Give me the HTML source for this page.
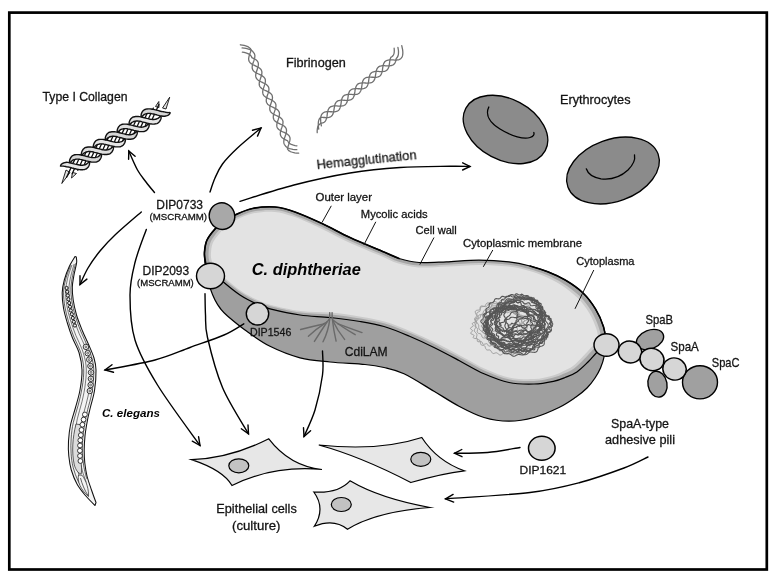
<!DOCTYPE html>
<html><head><meta charset="utf-8"><title>C. diphtheriae adhesion</title>
<style>html,body{margin:0;padding:0;background:#fff}body{width:776px;height:580px;overflow:hidden}svg{display:block}</style>
</head><body>
<svg width="776" height="580" viewBox="0 0 776 580" font-family="'Liberation Sans', sans-serif" fill="#141414">
<rect x="0" y="0" width="776" height="580" fill="#fff"/>
<rect x="9.3" y="12.6" width="757.5" height="556.9" fill="none" stroke="#000" stroke-width="2.7"/>
<defs><clipPath id="topclip"><path d="M215 229C217.8 225.8 220.7 223.3 224 221C227.3 218.7 230.2 217.1 235 215C239.8 212.9 245.8 209.8 252.5 208.5C259.2 207.2 267.9 206.4 275 207C282.1 207.6 287.1 209.2 295 212C302.9 214.8 313.3 219.5 322.5 223.8C331.7 228 339.8 232.8 350 237.5C360.2 242.2 375.8 248.5 384 252C392.2 255.5 393.2 256.8 399 258.5C404.8 260.2 411.1 262 419 262.5C426.9 263 436.5 262.2 446.5 261.8C456.5 261.3 468.6 260 479 260C489.4 260 500.5 260.8 509 261.8C517.5 262.8 523.6 264.3 530 266C536.4 267.7 541.7 269.4 547.6 271.7C553.5 274 559.3 276.5 565.2 280C571.1 283.5 577.7 287.9 582.8 292.8C587.9 297.7 592.1 303.5 595.6 309.2C599.1 314.9 601.9 321.7 603.5 326.8C605.1 331.9 605.8 336.5 605.5 340C605.2 343.5 603.5 345.8 602 348C600.5 350.2 598.5 350.7 596.2 353C593.9 355.3 591.2 358.9 588 362C584.8 365.1 580.7 369.3 576.9 371.9C573.1 374.5 568.9 375.9 565 377.5C561.1 379.1 558.6 380.2 553.4 381.3C548.2 382.4 541.4 383.8 534 384C526.6 384.2 517.3 384.2 509 382.5C500.7 380.8 492.3 377.4 484 373.8C475.7 370.1 467.3 364.9 459 360.5C450.7 356.1 442.3 351.6 434 347.5C425.7 343.4 417.3 339.5 409 336C400.7 332.5 392.2 328.9 384 326.5C375.8 324.1 369 323 360 321.5C351 320 340 318.6 330 317.5C320 316.4 310 316.5 300 315C290 313.5 277.3 310.6 270 308.8C262.7 306.9 261 305.9 256 303.6C251 301.3 245.3 298.5 240 295C234.7 291.5 228.7 286.5 224 282.5C219.3 278.5 215.1 274.3 212 271C208.9 267.7 206.8 265.7 205.5 262.5C204.2 259.3 204.2 255.8 204.5 252C204.8 248.2 205.2 243.8 207 240C208.8 236.2 212.2 232.2 215 229Z"/></clipPath></defs>
<g fill="#e2e2e2" stroke="#111" stroke-width="0.9" stroke-linejoin="round"><path d="M66 170L61.800 183.500L70 172.500Z"/><path d="M72.500 172.500L71.500 178L76.500 173.500Z"/><path d="M162.500 108L169.700 97.200L166 109Z"/><path d="M155.500 106.500L158.800 101.500L159 107.500Z"/></g>
<g transform="translate(73.6 166) rotate(-32.6)" stroke-linejoin="round" stroke-linecap="round">
<path d="M-12 5.800L6 -5.800M-5.4 5.800L12.6 -5.800M1.2 5.800L19.2 -5.800M7.8 5.800L25.8 -5.800M14.4 5.800L32.4 -5.800M21 5.800L39 -5.800M27.6 5.800L45.6 -5.800M34.2 5.800L52.2 -5.800M40.8 5.800L58.8 -5.800M47.4 5.800L65.4 -5.800M54 5.800L72 -5.800M60.6 5.800L78.6 -5.800M67.2 5.800L85.2 -5.800M73.8 5.800L91.8 -5.800M80.4 5.800L98.4 -5.800M87 5.800L105 -5.800" fill="none" stroke="#111" stroke-width="1.3"/>
<path d="M-11.1 -7L-10.3 -6.5L-9.7 -6.1L-9.1 -5.7L-8.6 -5.4L-8.1 -4.9L-7.5 -4.4L-7 -3.9L-6.5 -3.3L-5.9 -2.7L-5.2 -2.1L-4.5 -1.5L-3.8 -0.8L-3.1 -0L-2.4 0.8L-1.6 1.6L-0.9 2.4L-0.1 3.2L0.6 4L1.4 4.8L2.2 5.5L3 6.2L3.9 6.9L4.7 7.5L5.6 8L6.5 8.5L7.5 8.9L8.4 9.1L9.4 9.3L10.4 9.1L11.4 8.9L12.3 8.5L13.1 8L13.9 7.4L14.6 6.7L15.2 5.9L15.6 4.9L15.6 4.9L14.5 4.9L13.6 5.1L12.8 5.2L12.1 5.3L11.4 5.3L10.9 5.2L10.3 5.1L9.9 4.9L9.4 4.8L8.9 4.6L8.4 4.4L7.8 4.1L7.2 3.7L6.6 3.3L5.9 2.8L5.3 2.2L4.6 1.5L3.9 0.8L3.2 0.1L2.4 -0.7L1.7 -1.5L0.9 -2.3L0.2 -3.1L-0.6 -3.9L-1.4 -4.7L-2.1 -5.4L-3 -6.2L-3.8 -6.8L-4.8 -7.3L-5.7 -7.6L-6.7 -7.9L-7.6 -8.1L-8.6 -8.1L-9.5 -8L-10.3 -7.7L-11.1 -7Z" fill="#e6e6e6" stroke="#111" stroke-width="1.4"/>
<path d="M-1.4 -4.9L-0.2 -4.9L0.8 -5.1L1.7 -5.3L2.5 -5.3L3.2 -5.2L3.8 -5.1L4.4 -4.8L4.9 -4.7L5.5 -4.5L6.2 -4.2L6.9 -3.8L7.6 -3.3L8.4 -2.7L9.1 -2L10 -1.2L10.8 -0.3L11.6 0.6L12.5 1.5L13.4 2.5L14.3 3.4L15.2 4.3L16.1 5.2L17 6.1L18 6.9L19 7.6L20 8.2L21.1 8.7L22.2 9.1L23.4 9.3L24.6 9.1L25.7 8.8L26.7 8.3L27.7 7.7L28.5 7L29.3 6.1L29.7 4.9L29.7 4.9L28.5 4.9L27.5 5.1L26.6 5.3L25.8 5.3L25.1 5.2L24.5 5.1L23.9 4.8L23.4 4.7L22.8 4.5L22.1 4.2L21.4 3.8L20.7 3.3L19.9 2.7L19.2 2L18.3 1.2L17.5 0.3L16.7 -0.6L15.8 -1.5L14.9 -2.5L14 -3.4L13.1 -4.3L12.2 -5.2L11.3 -6.1L10.3 -6.9L9.3 -7.6L8.3 -8.2L7.2 -8.7L6.1 -9.1L4.9 -9.3L3.7 -9.1L2.6 -8.8L1.6 -8.3L0.6 -7.7L-0.2 -7L-1 -6.1L-1.4 -4.9Z" fill="#d6d6d6" stroke="#111" stroke-width="1.4"/>
<path d="M12.7 -4.9L14 -4.9L15 -5.1L15.9 -5.3L16.7 -5.3L17.3 -5.2L18 -5.1L18.5 -4.8L19.1 -4.7L19.7 -4.5L20.3 -4.2L21 -3.8L21.7 -3.3L22.5 -2.7L23.3 -2L24.1 -1.2L24.9 -0.3L25.8 0.6L26.6 1.5L27.5 2.5L28.4 3.4L29.3 4.3L30.2 5.2L31.2 6.1L32.1 6.9L33.1 7.6L34.2 8.2L35.3 8.7L36.4 9.1L37.6 9.3L38.7 9.1L39.9 8.8L40.9 8.3L41.8 7.7L42.7 7L43.4 6.1L43.9 4.9L43.9 4.9L42.6 4.9L41.6 5.1L40.7 5.3L39.9 5.3L39.3 5.2L38.6 5.1L38.1 4.8L37.5 4.7L36.9 4.5L36.3 4.2L35.6 3.8L34.9 3.3L34.1 2.7L33.3 2L32.5 1.2L31.7 0.3L30.8 -0.6L30 -1.5L29.1 -2.5L28.2 -3.4L27.3 -4.3L26.4 -5.2L25.4 -6.1L24.5 -6.9L23.5 -7.6L22.4 -8.2L21.3 -8.7L20.2 -9.1L19 -9.3L17.9 -9.1L16.7 -8.8L15.7 -8.3L14.8 -7.7L13.9 -7L13.2 -6.1L12.7 -4.9Z" fill="#dfdfdf" stroke="#111" stroke-width="1.4"/>
<path d="M26.9 -4.9L28.1 -4.9L29.1 -5.1L30 -5.3L30.8 -5.3L31.5 -5.2L32.1 -5.1L32.7 -4.8L33.2 -4.7L33.8 -4.5L34.5 -4.2L35.2 -3.8L35.9 -3.3L36.7 -2.7L37.4 -2L38.3 -1.2L39.1 -0.3L39.9 0.6L40.8 1.5L41.7 2.5L42.6 3.4L43.5 4.3L44.4 5.2L45.3 6.1L46.3 6.9L47.3 7.6L48.3 8.2L49.4 8.7L50.5 9.1L51.7 9.3L52.9 9.1L54 8.8L55 8.3L56 7.7L56.8 7L57.6 6.1L58 4.9L58 4.9L56.8 4.9L55.8 5.1L54.9 5.3L54.1 5.3L53.4 5.2L52.8 5.1L52.2 4.8L51.7 4.7L51.1 4.5L50.4 4.2L49.7 3.8L49 3.3L48.2 2.7L47.5 2L46.6 1.2L45.8 0.3L45 -0.6L44.1 -1.5L43.2 -2.5L42.3 -3.4L41.4 -4.3L40.5 -5.2L39.6 -6.1L38.6 -6.9L37.6 -7.6L36.6 -8.2L35.5 -8.7L34.4 -9.1L33.2 -9.3L32 -9.1L30.9 -8.8L29.9 -8.3L28.9 -7.7L28.1 -7L27.3 -6.1L26.9 -4.9Z" fill="#e6e6e6" stroke="#111" stroke-width="1.4"/>
<path d="M41 -4.9L42.3 -4.9L43.3 -5.1L44.2 -5.3L45 -5.3L45.6 -5.2L46.3 -5.1L46.8 -4.8L47.4 -4.7L48 -4.5L48.6 -4.2L49.3 -3.8L50 -3.3L50.8 -2.7L51.6 -2L52.4 -1.2L53.2 -0.3L54.1 0.6L54.9 1.5L55.8 2.5L56.7 3.4L57.6 4.3L58.5 5.2L59.5 6.1L60.4 6.9L61.4 7.6L62.5 8.2L63.6 8.7L64.7 9.1L65.9 9.3L67 9.1L68.2 8.8L69.2 8.3L70.1 7.7L71 7L71.7 6.1L72.2 4.9L72.2 4.9L70.9 4.9L69.9 5.1L69 5.3L68.2 5.3L67.6 5.2L66.9 5.1L66.4 4.8L65.8 4.7L65.2 4.5L64.6 4.2L63.9 3.8L63.2 3.3L62.4 2.7L61.6 2L60.8 1.2L60 0.3L59.1 -0.6L58.3 -1.5L57.4 -2.5L56.5 -3.4L55.6 -4.3L54.7 -5.2L53.7 -6.1L52.8 -6.9L51.8 -7.6L50.7 -8.2L49.6 -8.7L48.5 -9.1L47.3 -9.3L46.2 -9.1L45 -8.8L44 -8.3L43.1 -7.7L42.2 -7L41.5 -6.1L41 -4.9Z" fill="#d6d6d6" stroke="#111" stroke-width="1.4"/>
<path d="M55.2 -4.9L56.4 -4.9L57.4 -5.1L58.3 -5.3L59.1 -5.3L59.8 -5.2L60.4 -5.1L61 -4.8L61.5 -4.7L62.1 -4.5L62.8 -4.2L63.5 -3.8L64.2 -3.3L65 -2.7L65.7 -2L66.6 -1.2L67.4 -0.3L68.2 0.6L69.1 1.5L70 2.5L70.9 3.4L71.8 4.3L72.7 5.2L73.6 6.1L74.6 6.9L75.6 7.6L76.6 8.2L77.7 8.7L78.8 9.1L80 9.3L81.2 9.1L82.3 8.8L83.3 8.3L84.3 7.7L85.1 7L85.9 6.1L86.3 4.9L86.3 4.9L85.1 4.9L84.1 5.1L83.2 5.3L82.4 5.3L81.7 5.2L81.1 5.1L80.5 4.8L80 4.7L79.4 4.5L78.7 4.2L78 3.8L77.3 3.3L76.5 2.7L75.8 2L74.9 1.2L74.1 0.3L73.3 -0.6L72.4 -1.5L71.5 -2.5L70.6 -3.4L69.7 -4.3L68.8 -5.2L67.9 -6.1L66.9 -6.9L65.9 -7.6L64.9 -8.2L63.8 -8.7L62.7 -9.1L61.5 -9.3L60.3 -9.1L59.2 -8.8L58.2 -8.3L57.2 -7.7L56.4 -7L55.6 -6.1L55.2 -4.9Z" fill="#dfdfdf" stroke="#111" stroke-width="1.4"/>
<path d="M69.3 -4.9L70.6 -4.9L71.6 -5.1L72.5 -5.3L73.3 -5.3L73.9 -5.2L74.6 -5.1L75.1 -4.8L75.7 -4.7L76.3 -4.5L76.9 -4.2L77.6 -3.8L78.3 -3.3L79.1 -2.7L79.9 -2L80.7 -1.2L81.5 -0.3L82.4 0.6L83.2 1.5L84.1 2.5L85 3.4L85.9 4.3L86.8 5.2L87.8 6.1L88.7 6.9L89.7 7.6L90.8 8.2L91.9 8.7L93 9.1L94.2 9.3L95.3 9.1L96.5 8.8L97.5 8.3L98.4 7.7L99.3 7L100 6.1L100.5 4.9L100.5 4.9L99.2 4.9L98.2 5.1L97.3 5.3L96.5 5.3L95.9 5.2L95.2 5.1L94.7 4.8L94.1 4.7L93.5 4.5L92.9 4.2L92.2 3.8L91.5 3.3L90.7 2.7L89.9 2L89.1 1.2L88.3 0.3L87.4 -0.6L86.6 -1.5L85.7 -2.5L84.8 -3.4L83.9 -4.3L83 -5.2L82 -6.1L81.1 -6.9L80.1 -7.6L79 -8.2L77.9 -8.7L76.8 -9.1L75.6 -9.3L74.5 -9.1L73.3 -8.8L72.3 -8.3L71.4 -7.7L70.5 -7L69.8 -6.1L69.3 -4.9Z" fill="#e6e6e6" stroke="#111" stroke-width="1.4"/>
<path d="M83.5 -4.9L84.6 -4.9L85.4 -5.1L86.2 -5.2L87 -5.3L87.6 -5.3L88.2 -5.2L88.7 -5.1L89.2 -4.9L89.6 -4.8L90.1 -4.6L90.7 -4.4L91.2 -4.1L91.8 -3.7L92.5 -3.3L93.1 -2.8L93.8 -2.2L94.5 -1.5L95.2 -0.8L95.9 -0.1L96.6 0.7L97.4 1.5L98.1 2.3L98.9 3.1L99.6 3.9L100.4 4.7L101.2 5.4L102 6.2L102.9 6.8L103.8 7.3L104.8 7.6L105.7 7.9L106.7 8.1L107.6 8.1L108.5 8L109.4 7.7L110.1 7L110.1 7L109.4 6.5L108.7 6.1L108.2 5.7L107.6 5.4L107.1 4.9L106.6 4.4L106.1 3.9L105.5 3.3L104.9 2.7L104.2 2.1L103.6 1.5L102.8 0.8L102.1 0L101.4 -0.8L100.7 -1.6L99.9 -2.4L99.2 -3.2L98.4 -4L97.6 -4.8L96.8 -5.5L96 -6.2L95.2 -6.9L94.3 -7.5L93.5 -8L92.5 -8.5L91.6 -8.9L90.6 -9.1L89.6 -9.3L88.6 -9.1L87.6 -8.9L86.7 -8.5L85.9 -8L85.1 -7.4L84.5 -6.7L83.8 -5.9L83.5 -4.9Z" fill="#d6d6d6" stroke="#111" stroke-width="1.4"/>
</g>
<g transform="translate(247.5 47.5) rotate(67)" fill="none" stroke="#707070" stroke-width="1.3" stroke-linecap="round" stroke-linejoin="round">
<path d="M2.2 6.5L3.2 5L4.3 3.6L5.3 2.5L6.3 1.6L7.3 0.9L8.4 0.3L9.4 0L11 -0.1L11.8 -0.8L12.6 -1.5L13.4 -2.1L14.2 -2.7L15 -3.2L15.8 -3.5L16.6 -3.8L17.4 -3.9L18.2 -3.9L19 -3.7L19.8 -3.4L20.6 -3L21.4 -2.5L22.2 -1.9L23 -1.2L23.8 -0.5L24.7 0.2L25.5 0.9L26.3 1.6L27.1 2.2L27.9 2.8L28.7 3.3L29.5 3.6L30.3 3.8L31.1 3.9L31.9 3.8L32.7 3.7L33.5 3.3L34.3 2.9L35.1 2.4L35.9 1.8L36.7 1.1L37.5 0.4L38.3 -0.3L39.1 -1.1L39.9 -1.7L40.7 -2.4L41.5 -2.9L42.3 -3.3L43.1 -3.6L43.9 -3.8L44.7 -3.9L45.5 -3.8L46.3 -3.6L47.1 -3.3L47.9 -2.8L48.7 -2.3L49.5 -1.7L50.3 -1L51.1 -0.2L52 0.5L52.8 1.2L53.6 1.9L54.4 2.5L55.2 3L56 3.4L56.8 3.7L57.6 3.9L58.4 3.9L59.2 3.8L60 3.6L60.8 3.2L61.6 2.7L62.4 2.2L63.2 1.5L64 0.8L64.8 0.1L65.6 -0.6L66.4 -1.3L67.2 -2L68 -2.6L68.8 -3.1L69.6 -3.5L70.4 -3.7L71.2 -3.9L72 -3.9L72.8 -3.8L73.6 -3.5L74.4 -3.1L75.2 -2.6L76 -2.1L76.8 -1.4L77.6 -0.7L78.5 0L79.3 0.8L80.1 1.4L80.9 2.1L81.7 2.7L82.5 3.2L83.3 3.5L84.1 3.8L84.9 3.9L85.7 3.9L86.5 3.7L87.3 3.4L88.1 3L88.9 2.5L89.7 1.9L90.5 1.3L91.3 0.6L92.1 -0.2L92.9 -0.9L93.7 -1.6L94.5 -2.2L95.3 -2.8L96.1 -3.2L96.9 -3.6L97.7 -3.8L98.5 -3.9L99.3 -3.9L100.1 -3.7L100.9 -3.4L101.7 -2.9L102.5 -2.4L103.3 -1.8L104.1 -1.1L104.9 -0.4L105.8 0.3L106.6 1L107.4 1.7L108.2 2.3L109 2.9L110.5 2.5L111.5 2L112.5 1.2L113.4 0.3L114.4 -0.9L115.4 -2.3L116.4 -3.9L117.3 -5.8"/>
<path d="M-1.8 5.1L-0.8 3.3L0.3 1.7L1.3 0.3L2.3 -0.9L3.3 -1.9L4.4 -2.7L5.4 -3.2L7 -3.6L7.8 -3.8L8.6 -3.9L9.4 -3.8L10.2 -3.7L11 -3.3L11.8 -2.9L12.6 -2.4L13.4 -1.7L14.2 -1.1L15 -0.4L15.8 0.4L16.6 1.1L17.4 1.8L18.2 2.4L19 2.9L19.8 3.3L20.7 3.7L21.5 3.8L22.3 3.9L23.1 3.8L23.9 3.6L24.7 3.3L25.5 2.8L26.3 2.3L27.1 1.6L27.9 0.9L28.7 0.2L29.5 -0.5L30.3 -1.2L31.1 -1.9L31.9 -2.5L32.7 -3L33.5 -3.4L34.3 -3.7L35.1 -3.9L35.9 -3.9L36.7 -3.8L37.5 -3.5L38.3 -3.2L39.1 -2.7L39.9 -2.1L40.7 -1.5L41.5 -0.8L42.3 -0.1L43.1 0.6L43.9 1.3L44.7 2L45.5 2.6L46.3 3.1L47.1 3.5L48 3.7L48.8 3.9L49.6 3.9L50.4 3.8L51.2 3.5L52 3.1L52.8 2.6L53.6 2L54.4 1.4L55.2 0.7L56 -0.1L56.8 -0.8L57.6 -1.5L58.4 -2.1L59.2 -2.7L60 -3.2L60.8 -3.5L61.6 -3.8L62.4 -3.9L63.2 -3.9L64 -3.7L64.8 -3.4L65.6 -3L66.4 -2.5L67.2 -1.9L68 -1.2L68.8 -0.5L69.6 0.2L70.4 0.9L71.2 1.6L72 2.2L72.8 2.8L73.6 3.2L74.5 3.6L75.3 3.8L76.1 3.9L76.9 3.9L77.7 3.7L78.5 3.4L79.3 2.9L80.1 2.4L80.9 1.8L81.7 1.1L82.5 0.4L83.3 -0.3L84.1 -1L84.9 -1.7L85.7 -2.3L86.5 -2.9L87.3 -3.3L88.1 -3.6L88.9 -3.8L89.7 -3.9L90.5 -3.8L91.3 -3.6L92.1 -3.3L92.9 -2.8L93.7 -2.3L94.5 -1.7L95.3 -1L96.1 -0.3L96.9 0.5L97.7 1.2L98.5 1.8L99.3 2.5L100.1 3L100.9 3.4L101.8 3.7L102.6 3.9L103.4 3.9L104.2 3.8L105 3.6L106.5 3.2L107.5 2.6L108.5 1.8L109.4 0.8L110.4 -0.5L111.4 -1.9L112.4 -3.6L113.3 -5.5"/>
<path d="M-5.3 5.5L-4.3 3.8L-3.2 2.3L-2.2 1L-1.2 -0.1L-0.2 -1L0.9 -1.7L1.9 -2.2L3.5 -2.5L4.3 -1.8L5.1 -1.2L5.9 -0.5L6.7 0.3L7.5 1L8.3 1.7L9.1 2.3L9.9 2.8L10.7 3.3L11.5 3.6L12.3 3.8L13.1 3.9L13.9 3.8L14.7 3.6L15.5 3.3L16.3 2.9L17.2 2.3L18 1.7L18.8 1L19.6 0.3L20.4 -0.4L21.2 -1.1L22 -1.8L22.8 -2.4L23.6 -2.9L24.4 -3.4L25.2 -3.7L26 -3.9L26.8 -3.9L27.6 -3.8L28.4 -3.6L29.2 -3.2L30 -2.8L30.8 -2.2L31.6 -1.6L32.4 -0.9L33.2 -0.2L34 0.5L34.8 1.2L35.6 1.9L36.4 2.5L37.2 3L38 3.4L38.8 3.7L39.6 3.9L40.4 3.9L41.2 3.8L42 3.5L42.8 3.2L43.6 2.7L44.5 2.1L45.3 1.5L46.1 0.8L46.9 0.1L47.7 -0.7L48.5 -1.4L49.3 -2L50.1 -2.6L50.9 -3.1L51.7 -3.5L52.5 -3.8L53.3 -3.9L54.1 -3.9L54.9 -3.7L55.7 -3.5L56.5 -3.1L57.3 -2.6L58.1 -2L58.9 -1.3L59.7 -0.6L60.5 0.1L61.3 0.8L62.1 1.5L62.9 2.1L63.7 2.7L64.5 3.2L65.3 3.5L66.1 3.8L66.9 3.9L67.7 3.9L68.5 3.7L69.3 3.4L70.1 3L71 2.5L71.8 1.9L72.6 1.2L73.4 0.5L74.2 -0.2L75 -0.9L75.8 -1.6L76.6 -2.3L77.4 -2.8L78.2 -3.3L79 -3.6L79.8 -3.8L80.6 -3.9L81.4 -3.8L82.2 -3.7L83 -3.3L83.8 -2.9L84.6 -2.4L85.4 -1.8L86.2 -1.1L87 -0.4L87.8 0.4L88.6 1.1L89.4 1.7L90.2 2.4L91 2.9L91.8 3.3L92.6 3.7L93.4 3.8L94.2 3.9L95 3.8L95.8 3.6L96.6 3.3L97.4 2.8L98.3 2.3L99.1 1.6L99.9 1L100.7 0.2L101.5 -0.5L103 -0.6L104 -0.9L105 -1.4L105.9 -2.1L106.9 -3L107.9 -4.2L108.9 -5.5L109.8 -7.1"/>
</g>
<g transform="translate(316.5 123.5) rotate(-39.7)" fill="none" stroke="#707070" stroke-width="1.3" stroke-linecap="round" stroke-linejoin="round">
<path d="M2.2 5L3.2 3.2L4.3 1.5L5.3 0.1L6.3 -1.1L7.3 -2.1L8.4 -2.9L9.4 -3.5L11 -3.9L11.8 -3.9L12.6 -3.8L13.4 -3.6L14.2 -3.2L15 -2.8L15.8 -2.2L16.6 -1.6L17.4 -0.9L18.3 -0.1L19.1 0.6L19.9 1.3L20.7 2L21.5 2.6L22.3 3.1L23.1 3.5L23.9 3.7L24.7 3.9L25.5 3.9L26.3 3.8L27.1 3.5L27.9 3.1L28.7 2.6L29.5 2L30.3 1.4L31.2 0.7L32 -0L32.8 -0.8L33.6 -1.5L34.4 -2.1L35.2 -2.7L36 -3.2L36.8 -3.5L37.6 -3.8L38.4 -3.9L39.2 -3.9L40 -3.7L40.8 -3.4L41.6 -3L42.4 -2.5L43.2 -1.9L44.1 -1.2L44.9 -0.5L45.7 0.2L46.5 1L47.3 1.6L48.1 2.3L48.9 2.8L49.7 3.3L50.5 3.6L51.3 3.8L52.1 3.9L52.9 3.8L53.7 3.6L54.5 3.3L55.3 2.9L56.1 2.3L57 1.7L57.8 1L58.6 0.3L59.4 -0.4L60.2 -1.1L61 -1.8L61.8 -2.4L62.6 -3L63.4 -3.4L64.2 -3.7L65 -3.9L65.8 -3.9L66.6 -3.8L67.4 -3.6L68.2 -3.2L69 -2.7L69.8 -2.2L70.7 -1.5L71.5 -0.9L72.3 -0.1L73.1 0.6L73.9 1.3L74.7 2L75.5 2.6L76.3 3.1L77.1 3.5L77.9 3.7L78.7 3.9L79.5 3.9L80.3 3.8L81.1 3.5L81.9 3.1L82.7 2.6L83.6 2L84.4 1.4L85.2 0.7L86 -0.1L86.8 -0.8L87.6 -1.5L88.4 -2.1L89.2 -2.7L90 -3.2L90.8 -3.5L91.6 -3.8L92.4 -3.9L93.2 -3.9L94 -3.7L94.8 -3.4L95.6 -3L96.5 -2.5L97.3 -1.9L98.1 -1.2L98.9 -0.5L99.7 0.2L100.5 1L101.3 1.7L102.1 2.3L102.9 2.8L103.7 3.3L104.5 3.6L105.3 3.8L106.1 3.9L106.9 3.8L108.5 3.4L109.5 2.8L110.4 2L111.4 1L112.4 -0.3L113.4 -1.8L114.3 -3.5L115.3 -5.4"/>
<path d="M-1.8 5.7L-0.8 4L0.3 2.5L1.3 1.2L2.3 0.2L3.3 -0.7L4.4 -1.4L5.4 -1.8L7 -2.1L7.8 -1.4L8.6 -0.7L9.4 0L10.2 0.7L11 1.4L11.8 2.1L12.6 2.7L13.4 3.2L14.3 3.5L15.1 3.8L15.9 3.9L16.7 3.9L17.5 3.7L18.3 3.4L19.1 3L19.9 2.5L20.7 1.9L21.5 1.2L22.3 0.5L23.1 -0.2L23.9 -0.9L24.7 -1.6L25.5 -2.2L26.3 -2.8L27.2 -3.3L28 -3.6L28.8 -3.8L29.6 -3.9L30.4 -3.8L31.2 -3.7L32 -3.3L32.8 -2.9L33.6 -2.4L34.4 -1.7L35.2 -1.1L36 -0.3L36.8 0.4L37.6 1.1L38.4 1.8L39.2 2.4L40.1 2.9L40.9 3.4L41.7 3.7L42.5 3.9L43.3 3.9L44.1 3.8L44.9 3.6L45.7 3.2L46.5 2.8L47.3 2.2L48.1 1.6L48.9 0.9L49.7 0.2L50.5 -0.6L51.3 -1.3L52.1 -1.9L53 -2.5L53.8 -3L54.6 -3.4L55.4 -3.7L56.2 -3.9L57 -3.9L57.8 -3.8L58.6 -3.5L59.4 -3.1L60.2 -2.6L61 -2.1L61.8 -1.4L62.6 -0.7L63.4 0L64.2 0.7L65 1.5L65.8 2.1L66.7 2.7L67.5 3.2L68.3 3.5L69.1 3.8L69.9 3.9L70.7 3.9L71.5 3.7L72.3 3.4L73.1 3L73.9 2.5L74.7 1.9L75.5 1.2L76.3 0.5L77.1 -0.2L77.9 -0.9L78.7 -1.6L79.6 -2.3L80.4 -2.8L81.2 -3.3L82 -3.6L82.8 -3.8L83.6 -3.9L84.4 -3.8L85.2 -3.7L86 -3.3L86.8 -2.9L87.6 -2.4L88.4 -1.7L89.2 -1.1L90 -0.3L90.8 0.4L91.6 1.1L92.5 1.8L93.3 2.4L94.1 2.9L94.9 3.4L95.7 3.7L96.5 3.9L97.3 3.9L98.1 3.8L98.9 3.6L99.7 3.2L100.5 2.8L101.3 2.2L102.1 1.6L102.9 0.9L104.5 0.7L105.5 0.3L106.4 -0.3L107.4 -1.1L108.4 -2.2L109.4 -3.4L110.3 -4.9L111.3 -6.6"/>
<path d="M-5.3 7.5L-4.3 6.2L-3.2 5.1L-2.2 4.2L-1.2 3.4L-0.2 2.9L0.9 2.6L1.9 2.5L3.5 2.6L4.3 3.1L5.1 3.5L5.9 3.7L6.7 3.9L7.5 3.9L8.3 3.8L9.1 3.5L9.9 3.1L10.8 2.6L11.6 2L12.4 1.4L13.2 0.7L14 -0.1L14.8 -0.8L15.6 -1.5L16.4 -2.1L17.2 -2.7L18 -3.2L18.8 -3.5L19.6 -3.8L20.4 -3.9L21.2 -3.9L22 -3.7L22.8 -3.4L23.7 -3L24.5 -2.5L25.3 -1.9L26.1 -1.2L26.9 -0.5L27.7 0.3L28.5 1L29.3 1.7L30.1 2.3L30.9 2.8L31.7 3.3L32.5 3.6L33.3 3.8L34.1 3.9L34.9 3.8L35.7 3.6L36.6 3.3L37.4 2.9L38.2 2.3L39 1.7L39.8 1L40.6 0.3L41.4 -0.4L42.2 -1.2L43 -1.8L43.8 -2.4L44.6 -3L45.4 -3.4L46.2 -3.7L47 -3.9L47.8 -3.9L48.6 -3.8L49.5 -3.6L50.3 -3.2L51.1 -2.7L51.9 -2.2L52.7 -1.5L53.5 -0.8L54.3 -0.1L55.1 0.6L55.9 1.3L56.7 2L57.5 2.6L58.3 3.1L59.1 3.5L59.9 3.7L60.7 3.9L61.5 3.9L62.3 3.8L63.2 3.5L64 3.1L64.8 2.6L65.6 2L66.4 1.4L67.2 0.7L68 -0.1L68.8 -0.8L69.6 -1.5L70.4 -2.1L71.2 -2.7L72 -3.2L72.8 -3.6L73.6 -3.8L74.4 -3.9L75.2 -3.9L76.1 -3.7L76.9 -3.4L77.7 -3L78.5 -2.5L79.3 -1.9L80.1 -1.2L80.9 -0.5L81.7 0.3L82.5 1L83.3 1.7L84.1 2.3L84.9 2.8L85.7 3.3L86.5 3.6L87.3 3.8L88.1 3.9L89 3.8L89.8 3.6L90.6 3.3L91.4 2.9L92.2 2.3L93 1.7L93.8 1L94.6 0.3L95.4 -0.4L96.2 -1.2L97 -1.8L97.8 -2.4L98.6 -3L99.4 -3.4L101 -3.2L102 -3.3L102.9 -3.6L103.9 -4.1L104.9 -4.8L105.9 -5.8L106.8 -6.9L107.8 -8.3"/>
</g>
<ellipse cx="505.5" cy="129.5" rx="45" ry="30.5" fill="#8b8b8b" stroke="#000" stroke-width="1.3" transform="rotate(28 505.5 129.5)"/>
<path d="M488.8 107C485 115 490 123 500 129C512 136.500 524 139.500 530 137.500C533.500 136.500 534.500 134.500 533.800 132.500" fill="none" stroke="#000" stroke-width="1.3" stroke-linecap="round"/>
<ellipse cx="613" cy="170.5" rx="48" ry="31" fill="#8b8b8b" stroke="#000" stroke-width="1.3" transform="rotate(-20 613 170.5)"/>
<path d="M586.3 168.800C588 174 593 177.500 601 178.800C611 180 621 176.500 628 170C633 165 635.500 160 634.500 155" fill="none" stroke="#000" stroke-width="1.3" stroke-linecap="round"/>
<path d="M206 250C205.8 252.1 204.8 258 205 262.5C205.2 267 206.1 272.6 207 277C207.9 281.4 209 284.8 210.3 288.6C211.6 292.4 213.3 296.6 215 300C216.7 303.4 218.6 306.3 220.7 309C222.8 311.7 223.4 312.5 227.5 316C231.6 319.5 237.9 324.9 245 330C252.1 335.1 260.8 341.7 270 346.3C279.2 350.9 290 355.2 300 357.8C310 360.4 319.2 360.9 330 362C340.8 363.1 356 363.6 365 364.5C374 365.4 377.5 366 384 367.5C390.5 369 395.7 369.8 404 373.8C412.3 377.7 424.8 385.8 434 391.2C443.2 396.7 450.7 401.9 459 406.2C467.3 410.6 475.7 415 484 417.5C492.3 420 500.7 421.2 509 421.2C517.3 421.2 525.7 419.8 534 417.5C542.3 415.2 552 410.9 559 407.5C566 404.1 571.3 400.2 576 397C580.7 393.8 583.8 391.2 587 388C590.2 384.8 592.8 381.3 595 378C597.2 374.7 599 371.5 600.5 368C602 364.5 603.2 361.3 604 357C604.8 352.7 605.2 344.5 605.5 342L590 335L400 295L260 265Z" fill="#9f9f9f" stroke="#000" stroke-width="1.25" stroke-linejoin="round"/>
<path d="M215 229C217.8 225.8 220.7 223.3 224 221C227.3 218.7 230.2 217.1 235 215C239.8 212.9 245.8 209.8 252.5 208.5C259.2 207.2 267.9 206.4 275 207C282.1 207.6 287.1 209.2 295 212C302.9 214.8 313.3 219.5 322.5 223.8C331.7 228 339.8 232.8 350 237.5C360.2 242.2 375.8 248.5 384 252C392.2 255.5 393.2 256.8 399 258.5C404.8 260.2 411.1 262 419 262.5C426.9 263 436.5 262.2 446.5 261.8C456.5 261.3 468.6 260 479 260C489.4 260 500.5 260.8 509 261.8C517.5 262.8 523.6 264.3 530 266C536.4 267.7 541.7 269.4 547.6 271.7C553.5 274 559.3 276.5 565.2 280C571.1 283.5 577.7 287.9 582.8 292.8C587.9 297.7 592.1 303.5 595.6 309.2C599.1 314.9 601.9 321.7 603.5 326.8C605.1 331.9 605.8 336.5 605.5 340C605.2 343.5 603.5 345.8 602 348C600.5 350.2 598.5 350.7 596.2 353C593.9 355.3 591.2 358.9 588 362C584.8 365.1 580.7 369.3 576.9 371.9C573.1 374.5 568.9 375.9 565 377.5C561.1 379.1 558.6 380.2 553.4 381.3C548.2 382.4 541.4 383.8 534 384C526.6 384.2 517.3 384.2 509 382.5C500.7 380.8 492.3 377.4 484 373.8C475.7 370.1 467.3 364.9 459 360.5C450.7 356.1 442.3 351.6 434 347.5C425.7 343.4 417.3 339.5 409 336C400.7 332.5 392.2 328.9 384 326.5C375.8 324.1 369 323 360 321.5C351 320 340 318.6 330 317.5C320 316.4 310 316.5 300 315C290 313.5 277.3 310.6 270 308.8C262.7 306.9 261 305.9 256 303.6C251 301.3 245.3 298.5 240 295C234.7 291.5 228.7 286.5 224 282.5C219.3 278.5 215.1 274.3 212 271C208.9 267.7 206.8 265.7 205.5 262.5C204.2 259.3 204.2 255.8 204.5 252C204.8 248.2 205.2 243.8 207 240C208.8 236.2 212.2 232.2 215 229Z" fill="#a6a6a6"/>
<path d="M217.9 231.6C220.5 228.7 223 226.2 226 223.9C229.1 221.6 231.7 219.9 236.2 217.8C240.8 215.8 246.7 212.8 253.1 211.5C259.5 210.2 267.9 209.5 274.7 210.1C281.6 210.7 286.2 212.2 294 214.9C301.7 217.7 312.1 222.3 321.2 226.6C330.3 230.8 338.4 235.6 348.7 240.3C359 245 374.5 251.3 382.8 254.8C391 258.4 392.1 259.7 398.1 261.5C404.1 263.3 410.7 265 418.8 265.6C426.9 266.2 436.6 265.3 446.6 264.8C456.7 264.4 468.7 263.1 479 263.1C489.3 263.1 500.3 263.8 508.6 264.8C517 265.8 522.9 267.3 529.2 269C535.5 270.7 540.7 272.4 546.4 274.8C552 277.2 557.6 279.9 563.1 283.4C568.7 287 574.9 291.4 579.6 296.1C584.3 300.8 588.3 306.3 591.6 311.6C594.8 317 597.5 323.6 599 328.2C600.6 332.9 601 336.8 600.8 339.7C600.7 342.5 599.5 343.6 598.2 345.3C596.9 346.9 595.1 347.4 592.9 349.7C590.6 351.9 587.8 355.5 584.7 358.6C581.6 361.7 578 365.7 574.4 368.2C570.9 370.8 567.1 372.2 563.5 373.8C559.9 375.4 557.6 376.6 552.7 377.8C547.7 379 541.1 380.6 533.9 380.9C526.7 381.2 517.7 381.1 509.6 379.5C501.5 377.8 493.4 374.5 485.2 370.9C477.1 367.3 468.8 362.1 460.4 357.8C452.1 353.4 443.7 348.8 435.4 344.7C427 340.6 418.6 336.7 410.2 333.1C401.8 329.6 393.2 326 384.9 323.5C376.6 321.1 369.6 320 360.5 318.4C351.4 316.9 340.4 315.4 330.3 314.4C320.3 313.4 310.3 313.8 300.4 312.4C290.4 311.1 277.9 308.1 270.7 306.2C263.4 304.4 262 303.5 257.1 301.2C252.2 299 246.7 296.3 241.4 292.8C236.2 289.4 230.2 284.5 225.7 280.5C221.2 276.5 217 272.2 214.3 268.9C211.5 265.6 210.3 263.8 209.3 261C208.4 258.2 208.4 255.5 208.6 252.3C208.8 249.1 209.2 245.1 210.7 241.7C212.3 238.3 215.4 234.6 217.9 231.6Z" fill="#cbcbcb"/>
<path d="M219.7 233.2C222 230.3 224.3 227.8 227.2 225.5C230.1 223.3 232.6 221.5 237 219.5C241.3 217.4 247.2 214.6 253.5 213.3C259.7 212 267.9 211.3 274.6 211.9C281.2 212.4 285.7 213.9 293.4 216.6C301 219.3 311.3 224 320.4 228.2C329.5 232.4 337.7 237.2 348 242C358.2 246.7 373.8 253 382.1 256.5C390.3 260 391.5 261.4 397.6 263.2C403.7 265 410.5 266.8 418.7 267.4C426.9 268 436.6 267.1 446.7 266.6C456.8 266.2 468.7 264.9 479 264.9C489.3 264.9 500.1 265.6 508.4 266.6C516.7 267.6 522.6 269.1 528.8 270.7C535 272.4 540.1 274.2 545.6 276.7C551.2 279.1 556.6 281.9 561.9 285.5C567.3 289 573.1 293.5 577.7 298.1C582.2 302.7 586.1 307.9 589.2 313.1C592.3 318.3 594.9 324.7 596.4 329.1C597.8 333.5 598.1 337 598 339.5C597.9 341.9 597.1 342.3 595.9 343.6C594.7 345 593.1 345.5 590.9 347.7C588.7 349.9 585.7 353.6 582.8 356.6C579.8 359.7 576.3 363.6 573 366.1C569.6 368.6 566.1 370 562.6 371.6C559.2 373.2 557 374.5 552.2 375.7C547.4 377 540.9 378.8 533.9 379.1C526.8 379.4 518 379.3 510 377.7C502 376.1 494.1 372.9 486 369.3C477.9 365.7 469.6 360.5 461.3 356.2C453 351.8 444.6 347.2 436.2 343.1C427.8 339 419.4 335 410.9 331.5C402.4 327.9 393.7 324.3 385.4 321.8C377 319.3 369.9 318.2 360.8 316.7C351.7 315.1 340.6 313.6 330.5 312.6C320.5 311.7 310.5 312.3 300.6 311C290.7 309.8 278.2 306.7 271 304.9C263.9 303 262.5 302.2 257.7 300C252.9 297.8 247.4 295.1 242.2 291.7C237 288.2 231 283.5 226.6 279.5C222.2 275.5 218.1 270.9 215.6 267.7C213.1 264.4 212.3 262.7 211.5 260.1C210.8 257.6 210.8 255.3 211 252.4C211.2 249.5 211.5 245.9 212.9 242.7C214.4 239.5 217.3 236 219.7 233.2Z" fill="#e3e3e3"/>
<path d="M215 229C217.8 225.8 220.7 223.3 224 221C227.3 218.7 230.2 217.1 235 215C239.8 212.9 245.8 209.8 252.5 208.5C259.2 207.2 267.9 206.4 275 207C282.1 207.6 287.1 209.2 295 212C302.9 214.8 313.3 219.5 322.5 223.8C331.7 228 339.8 232.8 350 237.5C360.2 242.2 375.8 248.5 384 252C392.2 255.5 393.2 256.8 399 258.5C404.8 260.2 411.1 262 419 262.5C426.9 263 436.5 262.2 446.5 261.8C456.5 261.3 468.6 260 479 260C489.4 260 500.5 260.8 509 261.8C517.5 262.8 523.6 264.3 530 266C536.4 267.7 541.7 269.4 547.6 271.7C553.5 274 559.3 276.5 565.2 280C571.1 283.5 577.7 287.9 582.8 292.8C587.9 297.7 592.1 303.5 595.6 309.2C599.1 314.9 601.9 321.7 603.5 326.8C605.1 331.9 605.8 336.5 605.5 340C605.2 343.5 603.5 345.8 602 348C600.5 350.2 598.5 350.7 596.2 353C593.9 355.3 591.2 358.9 588 362C584.8 365.1 580.7 369.3 576.9 371.9C573.1 374.5 568.9 375.9 565 377.5C561.1 379.1 558.6 380.2 553.4 381.3C548.2 382.4 541.4 383.8 534 384C526.6 384.2 517.3 384.2 509 382.5C500.7 380.8 492.3 377.4 484 373.8C475.7 370.1 467.3 364.9 459 360.5C450.7 356.1 442.3 351.6 434 347.5C425.7 343.4 417.3 339.5 409 336C400.7 332.5 392.2 328.9 384 326.5C375.8 324.1 369 323 360 321.5C351 320 340 318.6 330 317.5C320 316.4 310 316.5 300 315C290 313.5 277.3 310.6 270 308.8C262.7 306.9 261 305.9 256 303.6C251 301.3 245.3 298.5 240 295C234.7 291.5 228.7 286.5 224 282.5C219.3 278.5 215.1 274.3 212 271C208.9 267.7 206.8 265.7 205.5 262.5C204.2 259.3 204.2 255.8 204.5 252C204.8 248.2 205.2 243.8 207 240C208.8 236.2 212.2 232.2 215 229Z" fill="none" stroke="#000" stroke-width="1.25" stroke-linejoin="round"/>
<path d="M205.5 262.5C205.3 260.8 204.2 255.8 204.5 252C204.8 248.2 205.2 243.8 207 240C208.8 236.2 212.2 232.2 215 229C217.8 225.8 220.7 223.3 224 221C227.3 218.7 230.2 217.1 235 215C239.8 212.9 245.8 209.8 252.5 208.5C259.2 207.2 267.9 206.4 275 207C282.1 207.6 287.1 209.2 295 212C302.9 214.8 313.3 219.5 322.5 223.8C331.7 228 339.8 232.8 350 237.5C360.2 242.2 375.8 248.5 384 252C392.2 255.5 396.5 257.4 399 258.5" fill="none" stroke="#000" stroke-width="1.7" stroke-linecap="round"/>
<path d="M530 266C532.9 266.9 541.7 269.4 547.6 271.7C553.5 274 559.3 276.5 565.2 280C571.1 283.5 577.7 287.9 582.8 292.8C587.9 297.7 592.1 303.5 595.6 309.2C599.1 314.9 601.9 321.7 603.5 326.8C605.1 331.9 605.2 337.8 605.5 340" fill="none" stroke="#000" stroke-width="1.5" stroke-linecap="round"/>
<path d="M470.9 333.7L470.7 333.1L471.2 332.3L471.9 331.6L472.4 330.9L472.4 330.3L471.8 329.8L471 329.2L470.4 328.6L470.6 328L471.3 327.3L472.3 326.7L473.1 326.2L473.3 325.6L473 324.9L472.5 324.3L472.3 323.6L472.7 323L473.6 322.5L474.8 322.1L475.7 321.7L476.2 321.2L476.1 320.5L475.9 319.8L475.9 319.1L476.5 318.6L477.5 318.3L478.7 318.1L479.7 317.9L480.3 317.4L480.4 316.8L480.4 316L480.7 315.3L481.3 314.8L482.4 314.7L483.5 314.8L484.5 314.7L485.1 314.3L485.5 313.6L485.7 312.8L486.1 312.1L486.8 311.8L487.8 311.8L488.9 312L489.8 312.1L490.5 311.8L491 311.1L491.5 310.2L492.2 309.6L493 309.3L493.9 309.5L494.9 309.8L495.7 310L496.5 309.8L497.3 309.2L498 308.5L498.9 307.9L499.8 307.8L500.6 308.1L501.4 308.7L502.2 309L503 309L503.9 308.5L505 307.9L506 307.6L506.8 307.6L507.5 308.1L508.1 308.8L508.7 309.4L509.5 309.5L510.5 309.3L511.6 308.9L512.7 308.8L513.5 309.1L513.9 309.8L514.2 310.6L514.5 311.3L515.1 311.6L516.1 311.6L517.3 311.5L518.3 311.6L518.9 312L519 312.8L518.9 313.7L518.9 314.5L519.3 314.9L520.2 315.1L521.3 315.2L522.2 315.5L522.5 316L522.4 316.8L521.9 317.7L521.7 318.4L521.9 318.9L522.7 319.2L523.7 319.5L524.5 319.9L524.7 320.5L524.2 321.2L523.6 322L523.1 322.6L523.2 323.2L523.9 323.6L524.8 324.1L525.5 324.6L525.5 325.1L524.9 325.8L524.1 326.4L523.5 327L523.5 327.5L524.1 328.1L524.9 328.7L525.4 329.3L525.3 329.9L524.6 330.5L523.6 331L522.9 331.5L522.8 332L523.1 332.7L523.7 333.5L524 334.2L523.7 334.8L522.8 335.3L521.8 335.6L520.9 336L520.6 336.5L520.6 337.3L520.9 338.2L520.9 338.9L520.3 339.5L519.3 339.8L518.2 339.9L517.2 340.1L516.6 340.6L516.4 341.4L516.3 342.2L515.9 343L515.2 343.4L514.1 343.5L512.9 343.4L511.9 343.4L511.2 343.7L510.6 344.4L510.2 345.2L509.6 345.8L508.7 346.1L507.7 345.9L506.6 345.5L505.6 345.3L504.8 345.4L504.1 346L503.4 346.7L502.6 347.1L501.7 347.2L500.8 346.8L499.9 346.2L499.1 345.8L498.3 345.8L497.5 346.2L496.6 346.8L495.7 347.1L494.9 347L494.2 346.5L493.6 345.8L492.9 345.3L492.2 345.1L491.3 345.4L490.3 345.9L489.3 346.1L488.5 345.9L488 345.3L487.7 344.5L487.3 343.9L486.6 343.7L485.6 343.9L484.4 344.2L483.4 344.3L482.7 344L482.4 343.4L482.3 342.6L482 342L481.4 341.7L480.3 341.7L479.1 341.8L478 341.7L477.4 341.3L477.3 340.6L477.4 339.8L477.4 339.2L476.9 338.8L475.9 338.6L474.6 338.4L473.7 338.2L473.2 337.7L473.4 336.9L473.8 336.1L474 335.4L473.6 334.9L472.8 334.5L471.7 334.1L470.9 333.7Z" fill="none" stroke="#9c9c9c" stroke-width="1.0"/>
<path d="M529.6 344L529.7 344.7L529.9 345.6L530 346.4L529.7 347L528.9 347.2L527.9 347.3L527 347.3L526.4 347.6L526.2 348.3L526.2 349.2L526.1 350.1L525.7 350.7L524.9 350.9L523.9 350.8L522.9 350.6L522.1 350.7L521.6 351.1L521.2 351.9L520.9 352.7L520.3 353.3L519.5 353.5L518.5 353.2L517.5 352.8L516.6 352.5L515.8 352.6L515.2 353.1L514.6 353.8L513.8 354.3L513 354.4L512.1 354L511.1 353.4L510.3 352.8L509.4 352.5L508.6 352.7L507.8 353.1L506.9 353.4L506 353.4L505.2 353L504.5 352.2L503.8 351.4L503.1 350.8L502.3 350.6L501.4 350.7L500.4 350.9L499.5 350.8L498.8 350.3L498.3 349.5L497.9 348.6L497.5 347.8L496.8 347.3L495.9 347.2L494.9 347.2L494 347L493.3 346.6L492.9 345.8L492.8 344.9L492.7 344.1L492.3 343.5L491.5 343.1L490.5 342.9L489.5 342.7L488.7 342.2L488.5 341.5L488.5 340.7L488.6 339.9L488.5 339.2L487.9 338.7L487 338.3L485.9 337.9L485.1 337.4L484.8 336.8L484.9 336L485.3 335.3L485.4 334.6L485.1 334L484.3 333.5L483.3 332.9L482.5 332.2L482.2 331.5L482.4 330.9L482.9 330.2L483.4 329.6L483.4 329L483 328.3L482.2 327.5L481.5 326.7L481.2 326L481.5 325.4L482.2 324.9L483 324.4L483.5 323.9L483.4 323.2L483 322.4L482.5 321.5L482.4 320.7L482.8 320.1L483.6 319.8L484.7 319.6L485.5 319.3L485.9 318.8L485.9 318L485.8 317.2L485.8 316.4L486.3 315.9L487.2 315.7L488.3 315.7L489.4 315.7L490.1 315.5L490.5 315L490.7 314.2L490.9 313.4L491.4 313L492.3 312.9L493.4 313.1L494.5 313.5L495.4 313.5L496 313.2L496.4 312.6L496.8 311.9L497.4 311.5L498.2 311.4L499.2 311.8L500.2 312.3L501.1 312.6L501.9 312.6L502.5 312.2L503.1 311.6L503.7 311.1L504.5 311L505.4 311.4L506.2 312L507 312.6L507.8 312.8L508.5 312.5L509.3 312.1L510.1 311.6L511 311.5L511.8 311.9L512.5 312.5L513.2 313.2L513.8 313.7L514.7 313.7L515.6 313.5L516.6 313.2L517.6 313.1L518.4 313.4L519 314.1L519.4 314.9L520 315.6L520.7 315.9L521.7 316L522.8 315.9L523.9 316L524.7 316.4L525.2 317.1L525.4 318L525.7 318.8L526.2 319.4L527 319.7L528.1 319.9L529.2 320.2L530 320.7L530.3 321.4L530.3 322.3L530.2 323.1L530.3 323.9L530.9 324.4L531.8 324.9L532.8 325.4L533.5 326L533.7 326.7L533.5 327.5L533 328.3L532.7 329L532.9 329.6L533.5 330.2L534.3 330.9L534.9 331.5L535.1 332.2L534.7 332.9L533.9 333.5L533.3 334.1L533 334.7L533.3 335.3L533.9 336L534.5 336.8L534.6 337.5L534.2 338L533.4 338.4L532.5 338.8L531.9 339.3L531.9 339.9L532.3 340.6L532.7 341.5L532.8 342.2L532.5 342.7L531.6 343L530.7 343.2L529.9 343.5L529.6 344Z" fill="none" stroke="#9c9c9c" stroke-width="1.0"/>
<path d="M476.4 323.4L476.6 322.8L476.6 322.3L476.3 321.8L475.9 321.2L475.4 320.6L475.1 320L475.1 319.4L475.3 318.9L475.8 318.4L476.4 317.9L477 317.4L477.4 317L477.5 316.4L477.4 315.8L477.2 315.2L476.9 314.5L476.8 313.8L476.9 313.2L477.2 312.6L477.8 312.3L478.5 311.9L479.2 311.6L479.8 311.3L480.1 310.8L480.2 310.2L480.3 309.5L480.3 308.7L480.4 308L480.7 307.4L481.3 306.9L482 306.7L482.8 306.6L483.6 306.5L484.3 306.4L484.8 306.1L485.3 305.6L485.6 304.9L486 304.2L486.4 303.6L487 303.1L487.7 302.9L488.4 302.9L489.3 303.1L490.1 303.3L490.9 303.5L491.5 303.4L492.2 303.2L492.8 302.8L493.4 302.3L494 301.9L494.7 301.7L495.5 301.7L496.2 302L496.9 302.4L497.6 303L498.2 303.4L498.8 303.6L499.5 303.6L500.2 303.5L500.9 303.2L501.7 303L502.4 303L503 303.2L503.6 303.7L504 304.3L504.4 305L504.9 305.5L505.3 305.9L505.9 306.1L506.6 306.2L507.4 306.1L508.2 306.1L508.9 306.2L509.5 306.5L509.9 307.1L510.1 307.7L510.3 308.4L510.5 309L510.8 309.5L511.3 309.8L512 310L512.8 310.2L513.7 310.3L514.4 310.6L514.9 311L515.1 311.6L515.2 312.3L515.1 312.9L515.1 313.6L515.2 314.1L515.6 314.6L516.2 315L517 315.4L517.7 315.8L518.3 316.3L518.7 316.8L518.7 317.5L518.5 318.1L518.2 318.8L517.9 319.4L517.8 320L517.9 320.6L518.3 321.1L518.8 321.7L519.3 322.4L519.6 323L519.7 323.6L519.5 324.2L519 324.8L518.3 325.3L517.7 325.8L517.3 326.3L517.1 326.9L517.1 327.5L517.2 328.2L517.4 328.9L517.4 329.6L517.2 330.2L516.7 330.6L516 331L515.1 331.3L514.3 331.5L513.6 331.8L513.1 332.2L512.9 332.7L512.7 333.4L512.6 334.1L512.4 334.7L511.9 335.2L511.3 335.5L510.5 335.6L509.7 335.6L508.8 335.6L508.1 335.6L507.5 335.9L507.1 336.3L506.7 336.8L506.4 337.5L505.9 338L505.4 338.4L504.8 338.6L504 338.6L503.3 338.4L502.5 338.2L501.8 338.1L501.2 338.1L500.6 338.4L500.1 338.9L499.5 339.5L498.9 340L498.3 340.3L497.6 340.4L496.9 340.2L496.2 339.9L495.6 339.5L494.9 339.2L494.3 339.1L493.6 339.2L492.9 339.5L492.1 339.9L491.3 340.2L490.6 340.4L489.9 340.3L489.2 339.9L488.7 339.4L488.2 338.8L487.7 338.4L487.2 338L486.5 337.9L485.7 337.9L484.8 338L484 338L483.2 337.9L482.6 337.6L482.1 337L481.9 336.3L481.7 335.6L481.5 334.9L481.1 334.4L480.6 334L480 333.7L479.2 333.5L478.4 333.3L477.8 332.9L477.4 332.4L477.2 331.7L477.3 331L477.5 330.2L477.6 329.5L477.6 328.9L477.3 328.4L476.9 327.9L476.3 327.5L475.7 327L475.2 326.5L475.1 326L475.1 325.3L475.5 324.7L475.9 324L476.4 323.4Z" fill="none" stroke="#9c9c9c" stroke-width="1.0"/>
<path d="M486 326L486.5 325.5L486.9 325L487.1 324.6L486.9 324.3L486.4 324.1L485.9 323.9L485.6 323.6L485.6 323.2L485.9 322.8L486.6 322.3L487.3 321.9L487.7 321.5L487.9 321.1L487.7 320.8L487.4 320.5L487.1 320.1L487 319.8L487.4 319.4L488 319L488.8 318.6L489.4 318.3L489.9 317.9L490 317.6L489.8 317.2L489.7 316.8L489.6 316.3L489.9 315.9L490.5 315.6L491.2 315.3L492 315L492.6 314.8L493 314.4L493.2 314L493.2 313.5L493.4 313L493.7 312.5L494.2 312.2L494.9 312L495.8 311.8L496.5 311.6L497.1 311.4L497.6 311L497.9 310.5L498.3 310L498.7 309.5L499.3 309.1L500 309L500.8 308.9L501.6 308.9L502.3 308.8L503 308.6L503.6 308.2L504.1 307.8L504.8 307.3L505.4 307L506.1 306.8L506.9 306.9L507.5 307L508.2 307.2L508.8 307.2L509.4 307.1L510.2 306.7L510.9 306.4L511.7 306.1L512.3 306L512.9 306.1L513.4 306.4L513.8 306.7L514.3 307L514.8 307.1L515.5 306.9L516.2 306.7L517 306.5L517.7 306.4L518.2 306.5L518.5 306.8L518.7 307.3L518.9 307.7L519.2 308L519.7 308L520.4 307.9L521.2 307.8L522 307.7L522.5 307.8L522.8 308.1L522.8 308.5L522.7 309L522.7 309.4L523 309.6L523.6 309.7L524.4 309.7L525.2 309.6L525.8 309.7L526.1 310L526 310.4L525.8 310.9L525.6 311.3L525.6 311.7L525.9 311.9L526.5 312L527.3 312.1L527.9 312.3L528.3 312.5L528.2 312.9L527.9 313.4L527.4 313.8L527.1 314.3L527.1 314.6L527.4 314.9L528 315.2L528.5 315.4L528.8 315.8L528.7 316.2L528.3 316.6L527.6 317L527 317.5L526.6 317.9L526.5 318.2L526.7 318.6L526.9 319L527.1 319.4L526.9 319.9L526.4 320.3L525.6 320.6L524.8 321L524.1 321.3L523.6 321.6L523.4 322.1L523.3 322.5L523.2 323L523 323.4L522.5 323.8L521.7 324L520.8 324.2L519.9 324.4L519.2 324.7L518.7 325L518.3 325.4L518.1 325.9L517.7 326.3L517.2 326.7L516.5 326.9L515.7 327L514.8 327L514.1 327L513.4 327.2L512.9 327.5L512.5 328L512 328.5L511.5 328.8L510.8 329L510.1 329.1L509.4 329L508.7 328.9L508.1 328.9L507.5 329.1L506.9 329.5L506.3 329.9L505.6 330.3L504.9 330.6L504.3 330.6L503.7 330.5L503.2 330.3L502.6 330.1L502.1 330.2L501.4 330.4L500.6 330.8L499.8 331.1L499 331.4L498.3 331.5L497.8 331.4L497.4 331.1L497.1 330.8L496.6 330.6L496 330.6L495.2 330.8L494.3 331L493.5 331.3L492.7 331.3L492.3 331.1L492 330.8L491.9 330.4L491.7 330L491.4 329.7L490.8 329.7L490 329.8L489.1 329.8L488.4 329.8L487.9 329.6L487.8 329.2L488 328.7L488.2 328.2L488.2 327.8L487.9 327.5L487.4 327.4L486.7 327.3L486.1 327.2L485.7 326.9L485.7 326.5L486 326Z" fill="none" stroke="#9c9c9c" stroke-width="1.0"/>
<path d="M499.1 354.6L498.4 354L497.6 353.4L497 352.9L496.3 352.8L495.5 352.9L494.7 353.2L493.9 353.5L493.2 353.5L492.5 353.2L491.9 352.5L491.4 351.7L490.9 350.9L490.4 350.3L489.8 350L489.1 349.9L488.2 350L487.4 350L486.7 349.8L486.1 349.3L485.7 348.6L485.4 347.7L485.2 346.9L484.9 346.2L484.4 345.7L483.6 345.5L482.8 345.4L481.9 345.2L481.2 344.8L480.7 344.2L480.5 343.5L480.5 342.6L480.4 341.7L480.2 341L479.8 340.4L479.1 340L478.3 339.6L477.5 339.1L476.9 338.6L476.5 337.9L476.5 337.1L476.7 336.2L476.9 335.4L476.9 334.6L476.7 333.9L476.1 333.2L475.5 332.5L474.8 331.8L474.4 331L474.3 330.2L474.6 329.4L475.1 328.6L475.5 327.9L475.9 327.2L475.9 326.4L475.7 325.6L475.3 324.7L475 323.8L474.9 323L475.1 322.2L475.7 321.5L476.5 321L477.2 320.4L477.8 319.9L478.1 319.2L478.2 318.4L478.2 317.5L478.2 316.6L478.4 315.8L478.9 315.2L479.7 314.8L480.6 314.5L481.5 314.3L482.2 314L482.8 313.5L483.1 312.8L483.3 312L483.6 311.2L484 310.5L484.6 310.1L485.5 310L486.4 310L487.3 310.1L488 310L488.6 309.7L489.1 309.1L489.5 308.4L490 307.6L490.5 307.1L491.2 306.8L492 306.9L492.8 307.2L493.6 307.5L494.4 307.6L495 307.4L495.6 306.9L496.2 306.2L496.9 305.6L497.6 305.1L498.3 305.1L499.1 305.3L499.8 305.8L500.5 306.2L501.1 306.5L501.8 306.5L502.6 306.1L503.4 305.7L504.3 305.2L505.1 305L505.8 305.2L506.5 305.7L507.1 306.3L507.6 307L508.2 307.5L508.9 307.7L509.7 307.7L510.6 307.5L511.6 307.4L512.4 307.6L513 308L513.5 308.7L513.8 309.6L514.1 310.5L514.5 311.2L515.1 311.7L515.8 312L516.7 312.2L517.5 312.5L518.2 312.9L518.7 313.6L518.8 314.5L518.8 315.5L518.8 316.4L518.8 317.3L519.1 317.9L519.7 318.5L520.4 319L521.1 319.5L521.5 320.2L521.7 320.9L521.6 321.8L521.2 322.7L520.9 323.6L520.7 324.4L520.8 325.1L521.1 325.8L521.6 326.4L522.1 327.1L522.4 327.9L522.4 328.6L522 329.4L521.4 330.1L520.9 330.8L520.5 331.5L520.4 332.2L520.7 333L521 333.8L521.4 334.6L521.5 335.4L521.3 336.1L520.8 336.7L520.1 337.3L519.5 337.8L519 338.4L518.8 339L518.8 339.9L519 340.8L519.1 341.7L519 342.6L518.7 343.2L518.1 343.7L517.3 344.1L516.5 344.4L515.9 344.8L515.5 345.5L515.3 346.3L515.2 347.2L515 348.2L514.7 349L514.1 349.6L513.4 349.8L512.5 349.9L511.6 350L510.9 350.2L510.3 350.6L509.8 351.3L509.4 352.1L508.9 352.9L508.3 353.5L507.5 353.8L506.7 353.8L505.8 353.5L505 353.2L504.2 353.1L503.5 353.2L502.8 353.6L502.1 354.2L501.4 354.7L500.6 355L499.9 355L499.1 354.6Z" fill="none" stroke="#9c9c9c" stroke-width="1.0"/>
<path d="M527.2 349.2L527.1 350L526.9 350.6L526.3 350.9L525.6 351L524.7 351L523.8 350.8L522.9 350.7L522.1 350.8L521.6 351L521.1 351.4L520.8 351.9L520.4 352.5L520 353.1L519.4 353.4L518.7 353.5L517.8 353.3L516.7 352.9L515.7 352.4L514.7 351.8L513.7 351.4L512.9 351.1L512.1 351L511.4 351.1L510.7 351.3L510 351.5L509.2 351.6L508.3 351.4L507.4 351L506.5 350.4L505.6 349.6L504.7 348.8L503.9 348L503.1 347.4L502.3 347L501.5 346.7L500.6 346.6L499.8 346.5L498.9 346.4L498 346.1L497.2 345.6L496.4 344.9L495.7 344.1L495.1 343.2L494.5 342.4L493.9 341.7L493.3 341L492.5 340.6L491.6 340.2L490.6 339.8L489.6 339.5L488.7 339L487.8 338.5L487.1 337.8L486.6 337L486.2 336.2L485.9 335.4L485.6 334.6L485.1 333.9L484.5 333.2L483.7 332.6L482.7 331.9L481.7 331.3L480.7 330.6L479.9 329.9L479.2 329.1L478.9 328.3L478.7 327.5L478.7 326.8L478.7 326.1L478.7 325.3L478.4 324.6L477.9 323.8L477.3 323L476.5 322.2L475.7 321.3L475.1 320.4L474.7 319.6L474.6 318.9L474.8 318.2L475.2 317.7L475.7 317.2L476.1 316.7L476.4 316.2L476.5 315.5L476.3 314.8L476 314L475.6 313.1L475.3 312.3L475.3 311.5L475.5 311L476 310.6L476.7 310.3L477.6 310.2L478.4 310.1L479.2 310L479.7 309.7L480 309.3L480.1 308.7L480.1 308L480.2 307.2L480.4 306.6L480.7 306.2L481.4 306L482.2 306L483.2 306.2L484.1 306.4L485.1 306.6L485.8 306.7L486.4 306.6L486.8 306.2L487.2 305.7L487.5 305.1L487.8 304.6L488.3 304.2L489 304.1L489.8 304.2L490.7 304.5L491.7 305L492.6 305.4L493.5 305.8L494.2 305.9L494.9 305.8L495.5 305.6L496.1 305.2L496.8 304.9L497.5 304.6L498.3 304.6L499.1 304.8L500 305.3L500.9 305.9L501.8 306.6L502.7 307.2L503.5 307.7L504.3 308L505.2 308.1L506.1 308.1L507 308.2L508 308.2L508.9 308.5L509.8 308.9L510.7 309.6L511.4 310.4L512.1 311.3L512.8 312.1L513.5 312.9L514.2 313.6L515 314.1L515.9 314.6L516.9 315L517.9 315.4L518.9 316L519.7 316.6L520.4 317.4L520.9 318.3L521.2 319.2L521.4 320.1L521.7 320.9L522 321.7L522.5 322.4L523.2 323.1L524 323.8L524.9 324.5L525.7 325.2L526.4 325.9L526.8 326.7L527 327.5L527 328.2L526.8 328.9L526.6 329.6L526.5 330.3L526.6 331L527 331.6L527.5 332.4L528.2 333.2L528.9 334L529.5 334.8L529.8 335.5L529.9 336.2L529.7 336.8L529.3 337.3L528.8 337.8L528.4 338.2L528.2 338.7L528.2 339.3L528.5 340.1L528.9 340.9L529.4 341.8L529.9 342.7L530.1 343.5L530.1 344.2L529.8 344.7L529.2 345L528.6 345.2L527.9 345.4L527.3 345.7L527 346.1L526.9 346.7L526.9 347.5L527.1 348.4L527.2 349.2Z" fill="none" stroke="#9c9c9c" stroke-width="1.0"/>
<path d="M519.9 344.9L519.1 345.2L518.2 345.2L517.3 345L516.4 344.6L515.5 344.3L514.7 344.1L513.9 344.2L513.1 344.4L512.4 344.8L511.7 345.2L510.9 345.6L510.1 345.9L509.2 345.9L508.4 345.6L507.7 345.1L506.9 344.4L506.2 343.7L505.6 343.2L504.9 342.7L504.2 342.5L503.4 342.5L502.6 342.6L501.7 342.8L500.9 342.8L500.1 342.6L499.4 342.2L498.8 341.6L498.4 340.8L498 340L497.7 339.2L497.3 338.6L496.7 338.1L496.1 337.8L495.2 337.7L494.4 337.5L493.5 337.4L492.7 337.1L492 336.7L491.6 336L491.3 335.3L491.2 334.5L491.2 333.7L491 332.9L490.7 332.3L490.2 331.8L489.5 331.4L488.7 331L487.8 330.5L487 330.1L486.4 329.5L486 328.8L485.9 328.1L486 327.3L486.2 326.5L486.4 325.7L486.5 325L486.3 324.3L485.9 323.7L485.3 323L484.7 322.3L484.1 321.5L483.6 320.8L483.5 320L483.6 319.3L484 318.5L484.6 317.9L485.2 317.2L485.7 316.6L486 316L486.1 315.3L486 314.5L485.8 313.7L485.6 312.8L485.5 312L485.6 311.2L486 310.5L486.7 310L487.5 309.6L488.4 309.3L489.3 309L490 308.6L490.6 308.2L490.9 307.5L491.2 306.8L491.3 306L491.6 305.3L491.9 304.6L492.5 304.1L493.2 303.8L494.1 303.7L495.1 303.7L496 303.7L496.9 303.7L497.7 303.6L498.3 303.3L498.8 302.8L499.2 302.1L499.6 301.4L500.2 300.8L500.8 300.4L501.5 300.2L502.4 300.2L503.2 300.4L504.1 300.8L504.9 301L505.6 301.2L506.3 301.1L507 300.8L507.7 300.4L508.4 299.8L509.1 299.3L509.9 298.9L510.7 298.8L511.5 298.9L512.2 299.2L512.9 299.7L513.6 300.2L514.3 300.7L515 300.9L515.8 301L516.6 300.8L517.5 300.5L518.5 300.3L519.4 300.1L520.3 300.2L521.1 300.5L521.7 301L522.2 301.7L522.7 302.4L523.2 303.1L523.7 303.8L524.3 304.2L525 304.5L525.9 304.7L526.9 304.8L527.8 305L528.7 305.3L529.3 305.8L529.8 306.5L530 307.4L530.1 308.3L530.1 309.1L530.2 310L530.4 310.7L530.8 311.3L531.4 311.8L532.1 312.3L532.9 312.8L533.5 313.4L534 314L534.2 314.8L534.1 315.6L533.8 316.4L533.4 317.2L533 318L532.8 318.7L532.8 319.4L533 320.1L533.5 320.7L534 321.4L534.4 322.1L534.8 322.8L534.8 323.5L534.6 324.2L534.1 324.9L533.5 325.5L532.9 326.1L532.3 326.6L532 327.2L531.9 327.9L532.1 328.6L532.3 329.4L532.6 330.2L532.8 331L532.8 331.8L532.5 332.4L532 333L531.3 333.4L530.5 333.8L529.8 334.1L529.2 334.6L528.8 335.1L528.6 335.8L528.5 336.6L528.5 337.5L528.4 338.4L528.2 339.2L527.8 339.9L527.1 340.3L526.3 340.6L525.4 340.7L524.5 340.7L523.7 340.9L523 341.1L522.4 341.6L522 342.2L521.5 343L521.1 343.8L520.5 344.4L519.9 344.9Z" fill="none" stroke="#9c9c9c" stroke-width="1.0"/>
<path d="M495.7 343.7L495 343.5L494.1 343.5L493.2 343.5L492.4 343.4L491.8 343L491.4 342.5L491.3 341.7L491.2 340.9L491.1 340.2L490.9 339.6L490.4 339.1L489.7 338.8L489 338.5L488.2 338.2L487.6 337.7L487.3 337.1L487.3 336.3L487.4 335.5L487.6 334.6L487.7 333.8L487.6 333.1L487.3 332.5L486.8 331.9L486.3 331.3L485.8 330.6L485.7 329.8L485.9 329L486.3 328.1L486.8 327.2L487.4 326.4L487.7 325.6L487.9 324.8L487.8 324L487.6 323.2L487.5 322.4L487.6 321.5L488 320.7L488.6 319.9L489.4 319.1L490.3 318.4L491 317.7L491.6 317L492 316.2L492.2 315.4L492.4 314.5L492.7 313.7L493.2 312.9L493.9 312.2L494.8 311.7L495.8 311.3L496.8 310.8L497.6 310.3L498.2 309.7L498.7 309L499.1 308.2L499.6 307.4L500.2 306.6L500.9 306.1L501.8 305.7L502.7 305.5L503.6 305.3L504.5 305.1L505.2 304.8L505.9 304.2L506.5 303.5L507.2 302.7L507.8 302L508.6 301.4L509.4 301.1L510.2 301L511.1 301.1L511.9 301.1L512.7 301L513.4 300.7L514.2 300.1L515 299.4L515.9 298.7L516.8 298.2L517.6 298L518.4 298L519.1 298.2L519.8 298.5L520.6 298.7L521.3 298.7L522.2 298.5L523.1 298L524.1 297.6L525 297.2L525.9 297.1L526.7 297.3L527.3 297.7L527.8 298.2L528.3 298.8L528.8 299.2L529.5 299.4L530.4 299.5L531.3 299.4L532.2 299.3L533.1 299.4L533.7 299.8L534.1 300.4L534.3 301.2L534.5 302L534.7 302.8L535 303.4L535.5 303.9L536.2 304.2L536.9 304.5L537.6 304.8L538.1 305.3L538.3 306L538.2 306.9L538 307.9L537.7 308.8L537.6 309.6L537.8 310.3L538.1 310.9L538.6 311.4L539.1 311.9L539.4 312.6L539.5 313.3L539.3 314.1L538.8 315L538.3 315.9L537.9 316.7L537.6 317.5L537.7 318.2L537.9 318.9L538.2 319.5L538.5 320.3L538.5 321L538.3 321.8L537.7 322.6L537.1 323.3L536.5 324.1L536 324.8L535.7 325.6L535.7 326.3L535.7 327.1L535.8 328L535.8 328.8L535.5 329.6L534.9 330.4L534.2 331L533.4 331.7L532.7 332.3L532.2 333L531.8 333.7L531.6 334.6L531.3 335.6L531.1 336.5L530.6 337.4L530 338.1L529.2 338.6L528.3 339.1L527.4 339.5L526.6 339.9L525.9 340.6L525.3 341.3L524.7 342.2L524.2 343.1L523.5 343.9L522.7 344.5L521.8 344.9L520.9 345.1L520 345.2L519.1 345.2L518.2 345.5L517.4 345.9L516.6 346.5L515.8 347.2L515 347.8L514.1 348.3L513.3 348.5L512.4 348.4L511.6 348.1L510.8 347.8L510.1 347.6L509.3 347.6L508.5 347.8L507.6 348.2L506.7 348.6L505.9 348.9L505.1 348.9L504.4 348.6L503.8 348.1L503.2 347.6L502.7 347L502.1 346.7L501.5 346.5L500.7 346.6L499.8 346.8L498.9 347L498.1 346.9L497.5 346.6L497.1 346.1L496.8 345.4L496.5 344.7L496.2 344.1L495.7 343.7Z" fill="none" stroke="#5a5a5a" stroke-width="1.1"/>
<path d="M490.4 329.9L490.3 329.4L490.1 328.8L489.6 328.2L489.2 327.7L488.9 327.1L488.9 326.5L489.2 325.9L489.7 325.3L490.3 324.7L490.8 324.2L491.1 323.6L491.1 323L491 322.3L490.8 321.7L490.6 321L490.8 320.3L491.1 319.7L491.8 319.2L492.5 318.7L493.3 318.3L493.9 317.8L494.4 317.2L494.7 316.6L494.8 315.9L495 315.2L495.4 314.5L496 313.9L496.8 313.5L497.7 313.1L498.8 312.8L499.7 312.5L500.6 312.2L501.3 311.7L501.9 311.1L502.5 310.5L503.2 309.9L504 309.4L504.9 309.1L506 308.9L507.2 308.9L508.3 308.9L509.3 308.8L510.3 308.6L511.2 308.3L512.1 307.9L513 307.5L513.9 307.2L515 307L516 307.1L517.1 307.3L518.1 307.6L519.1 307.8L520 307.9L521 307.9L522 307.7L522.9 307.5L524 307.4L525 307.3L525.9 307.5L526.8 307.8L527.6 308.3L528.3 308.7L529.1 309L529.9 309.3L530.9 309.3L531.9 309.3L532.9 309.2L533.9 309.3L534.8 309.5L535.5 309.8L536.1 310.3L536.7 310.9L537.2 311.3L537.9 311.7L538.7 312L539.6 312.1L540.7 312.2L541.7 312.4L542.6 312.7L543.3 313.1L543.8 313.6L544.2 314.2L544.5 314.8L544.8 315.3L545.4 315.7L546.2 316.1L547.1 316.4L548.1 316.8L548.9 317.2L549.5 317.7L549.9 318.3L550 318.9L549.9 319.6L549.9 320.2L550.1 320.8L550.4 321.4L551 321.9L551.7 322.5L552.3 323.1L552.7 323.7L552.7 324.3L552.5 325L552.1 325.6L551.6 326.3L551.2 326.9L551 327.5L551.1 328.2L551.3 328.8L551.5 329.5L551.5 330.2L551.3 330.8L550.8 331.4L550.1 332L549.2 332.5L548.4 333L547.7 333.5L547.3 334.1L547 334.7L546.8 335.3L546.6 336L546.2 336.6L545.5 337.1L544.6 337.5L543.6 337.8L542.6 338.1L541.6 338.4L540.9 338.8L540.3 339.3L539.8 339.9L539.4 340.5L538.8 341L538.1 341.5L537.2 341.8L536.2 342L535.2 342.1L534.2 342.2L533.3 342.5L532.5 342.8L531.8 343.3L531.1 343.8L530.4 344.3L529.6 344.8L528.7 345.1L527.7 345.2L526.7 345.2L525.7 345.1L524.7 345.2L523.8 345.3L522.9 345.6L522 346L521.1 346.5L520.1 346.8L519.1 347.1L518.1 347.1L517.1 347L516.1 346.7L515.2 346.5L514.2 346.4L513.3 346.4L512.2 346.6L511.1 346.8L510 347L508.9 347.1L507.9 347L507 346.7L506.2 346.2L505.5 345.8L504.7 345.3L503.9 345L502.9 344.9L501.9 344.8L500.8 344.7L499.7 344.5L498.8 344.3L498.1 343.8L497.6 343.2L497.3 342.6L496.9 341.9L496.5 341.4L495.9 340.9L495.1 340.5L494.2 340.2L493.4 339.9L492.6 339.5L492.2 338.9L491.9 338.3L491.9 337.6L492 336.9L492 336.2L491.8 335.6L491.5 335.1L490.9 334.6L490.2 334.2L489.7 333.7L489.3 333.1L489.3 332.5L489.5 331.8L489.8 331.2L490.2 330.5L490.4 329.9Z" fill="none" stroke="#5a5a5a" stroke-width="1.1"/>
<path d="M498.3 347.3L497.4 347.3L496.2 347.5L495.2 347.6L494.5 347.2L494.3 346.4L494.3 345.3L494.1 344.5L493.4 344.1L492.3 344.1L491.2 344.1L490.4 343.8L490.2 343L490.3 341.9L490.4 340.9L490.1 340.3L489.2 339.9L488.1 339.7L487.2 339.3L486.9 338.5L487.2 337.5L487.7 336.4L487.7 335.5L487.3 334.9L486.4 334.3L485.5 333.7L485.2 332.9L485.6 331.9L486.3 330.9L486.8 329.9L486.8 329.1L486.3 328.3L485.7 327.5L485.4 326.6L485.8 325.7L486.6 324.7L487.6 323.9L488.1 323L488.1 322.1L487.7 321.2L487.5 320.2L487.9 319.3L488.8 318.5L490 317.8L490.9 317.2L491.3 316.3L491.3 315.3L491.3 314.3L491.6 313.4L492.5 312.8L493.7 312.3L494.8 311.9L495.6 311.3L495.9 310.4L496 309.3L496.4 308.4L497.1 307.7L498.3 307.5L499.4 307.4L500.3 307.1L500.9 306.3L501.3 305.3L501.7 304.3L502.4 303.6L503.4 303.4L504.5 303.4L505.4 303.4L506.2 303L506.8 302.1L507.4 301L508.1 300.1L509 299.9L509.9 300.1L510.8 300.3L511.7 300.2L512.5 299.5L513.3 298.5L514.1 297.6L515 297.2L515.9 297.4L516.7 297.9L517.5 298.2L518.4 297.9L519.3 297L520.3 296.2L521.3 295.7L522.2 295.9L522.8 296.5L523.5 297.2L524.3 297.3L525.3 296.9L526.5 296.2L527.6 295.8L528.4 296L529 296.7L529.4 297.7L529.9 298.3L530.8 298.4L531.9 298.1L533.1 297.8L534 298L534.4 298.8L534.5 299.9L534.7 300.9L535.3 301.4L536.2 301.5L537.3 301.5L538.2 301.7L538.6 302.5L538.5 303.6L538.3 304.8L538.4 305.7L539 306.2L540 306.4L540.9 306.7L541.3 307.4L541 308.5L540.5 309.7L540.2 310.7L540.4 311.5L541.2 312L542 312.4L542.4 313.1L542.2 314L541.6 315.1L540.9 316.1L540.7 317L541.1 317.6L541.9 318.3L542.4 319L542.3 319.8L541.6 320.8L540.8 321.7L540.3 322.5L540.3 323.3L540.8 324.1L541.4 325L541.4 325.8L540.8 326.7L539.9 327.4L539.1 328.2L538.8 329L539 329.9L539.4 330.9L539.5 331.9L539 332.7L538.1 333.4L537.1 334L536.4 334.7L536.2 335.6L536.3 336.7L536.3 337.9L535.9 338.8L535 339.3L533.9 339.7L532.9 340.2L532.3 341L532.1 342.1L531.8 343.3L531.3 344.2L530.5 344.8L529.3 345L528.2 345.1L527.4 345.5L526.8 346.4L526.2 347.6L525.6 348.6L524.7 349.1L523.7 349.1L522.6 348.9L521.6 348.9L520.8 349.4L520 350.3L519.2 351.2L518.3 351.7L517.4 351.6L516.4 351.1L515.5 350.7L514.7 350.7L513.8 351.3L512.9 352.1L511.9 352.6L511.1 352.5L510.3 351.9L509.6 351.1L508.9 350.7L508 350.9L507 351.5L506 352L505.2 352L504.5 351.3L504.1 350.4L503.6 349.6L502.9 349.4L501.9 349.7L500.8 350.2L499.9 350.2L499.3 349.7L499 348.8L498.8 347.8L498.3 347.3Z" fill="none" stroke="#5a5a5a" stroke-width="1.1"/>
<path d="M486.3 324.5L487 323.8L486.7 323.2L485.7 322.6L484.8 321.9L484.8 321.2L485.8 320.6L487.2 320.1L488.2 319.6L488.2 319L487.4 318.2L486.6 317.4L486.6 316.7L487.6 316.2L489.1 315.9L490.3 315.5L490.6 314.9L490.1 314.1L489.5 313.1L489.5 312.3L490.5 311.9L492 311.8L493.3 311.6L493.8 311.1L493.7 310.2L493.4 309.1L493.6 308.3L494.5 307.9L496 308L497.4 308L498.2 307.6L498.5 306.8L498.6 305.7L499 304.8L500 304.5L501.5 304.7L502.9 305L503.9 304.9L504.5 304.1L505 303.1L505.7 302.3L506.8 302.1L508.1 302.5L509.4 303L510.6 303.2L511.5 302.7L512.3 301.8L513.3 301.1L514.4 301L515.5 301.6L516.6 302.3L517.6 302.8L518.7 302.6L519.8 301.9L520.9 301.3L522 301.3L522.9 302L523.7 303L524.5 303.7L525.5 303.7L526.7 303.3L528 302.8L529.1 302.9L529.8 303.6L530.2 304.7L530.7 305.5L531.5 305.8L532.8 305.6L534.3 305.3L535.4 305.4L535.9 306.1L535.9 307.1L536.1 308.1L536.7 308.5L538 308.5L539.6 308.3L540.7 308.5L541.1 309.1L540.9 310.1L540.7 311L541.2 311.6L542.4 311.7L544.1 311.8L545.3 312L545.7 312.6L545.3 313.5L544.8 314.4L545 315L546.1 315.4L547.7 315.7L549 316L549.3 316.7L548.8 317.5L548 318.3L547.8 319L548.7 319.5L550.2 320L551.4 320.6L551.7 321.3L551 322L549.9 322.7L549.3 323.4L549.8 324L551 324.7L552.1 325.5L552.2 326.2L551.3 326.9L549.9 327.4L549 328L549 328.7L549.8 329.5L550.6 330.4L550.5 331.1L549.5 331.6L547.9 332L546.6 332.3L546.2 332.9L546.5 333.8L547 334.8L546.7 335.5L545.6 335.9L543.9 336L542.4 336.1L541.7 336.5L541.6 337.4L541.7 338.4L541.3 339.1L540.2 339.3L538.6 339.2L537 339L536.1 339.3L535.7 340L535.5 341L535 341.7L533.9 341.9L532.4 341.5L531 341.1L529.9 341.2L529.3 341.8L528.9 342.7L528.2 343.5L527.2 343.6L525.9 343.2L524.7 342.6L523.6 342.4L522.8 342.9L522 343.8L521.2 344.6L520.2 344.7L519.1 344.2L518.1 343.5L517.1 343.1L516.1 343.4L515.1 344.2L514 344.9L512.9 345.1L512 344.5L511.2 343.7L510.4 343.2L509.3 343.3L508 343.9L506.7 344.5L505.5 344.6L504.7 344L504.2 343.1L503.6 342.3L502.6 342.2L501.2 342.5L499.6 342.9L498.3 342.9L497.7 342.3L497.5 341.3L497.2 340.4L496.5 340L495 340L493.4 340.2L492.1 340L491.7 339.3L491.8 338.3L492 337.3L491.5 336.7L490.3 336.5L488.7 336.4L487.5 336L487.2 335.3L487.7 334.3L488.4 333.4L488.3 332.6L487.4 332.2L486 331.9L484.9 331.4L484.7 330.7L485.5 329.8L486.5 329L486.9 328.2L486.3 327.7L485.1 327.2L484.1 326.6L484 325.9L485 325.2L486.3 324.5Z" fill="none" stroke="#5a5a5a" stroke-width="1.1"/>
<path d="M482 323.2L481.5 322.6L481.1 322.1L480.8 321.5L480.9 320.9L481.2 320.4L481.6 319.8L482.2 319.3L482.7 318.8L483.1 318.3L483.3 317.8L483.3 317.2L483.2 316.6L483.1 315.9L483.1 315.3L483.3 314.7L483.7 314.2L484.4 313.7L485.2 313.3L486.1 312.9L487.1 312.6L487.9 312.3L488.7 311.9L489.3 311.4L489.7 310.9L490.2 310.4L490.6 309.8L491.2 309.3L491.9 308.9L492.8 308.6L493.9 308.4L495 308.3L496.1 308.3L497.2 308.2L498.2 308.1L499.1 307.9L499.9 307.6L500.6 307.2L501.4 306.8L502.2 306.5L503 306.2L504 306L505 306L506 306.1L507.1 306.3L508.1 306.5L509 306.6L510 306.6L510.9 306.5L511.8 306.3L512.7 306.1L513.6 305.8L514.6 305.6L515.6 305.6L516.5 305.6L517.5 305.8L518.3 306.1L519.2 306.4L520 306.7L520.9 306.9L521.8 307L522.7 307L523.8 306.9L524.9 306.8L526 306.8L527 306.8L528 307L528.9 307.2L529.6 307.6L530.2 308.1L530.9 308.5L531.5 309L532.3 309.3L533.2 309.5L534.1 309.7L535.2 309.9L536.3 310.1L537.3 310.3L538.2 310.7L538.8 311.1L539.3 311.7L539.6 312.3L539.8 312.9L540 313.4L540.3 314L540.8 314.5L541.4 314.9L542.1 315.3L542.9 315.8L543.6 316.2L544.2 316.7L544.5 317.3L544.5 317.9L544.4 318.5L544 319.1L543.7 319.7L543.4 320.3L543.3 320.9L543.4 321.4L543.7 321.9L544 322.5L544.3 323L544.5 323.6L544.5 324.1L544.2 324.7L543.7 325.2L543.1 325.7L542.3 326.2L541.7 326.7L541.1 327.1L540.8 327.6L540.6 328.1L540.6 328.7L540.6 329.2L540.6 329.8L540.4 330.4L540 330.9L539.3 331.3L538.6 331.7L537.7 332L536.8 332.3L536.1 332.6L535.4 333L535 333.5L534.6 334L534.3 334.6L534 335.2L533.6 335.7L533.1 336.2L532.3 336.6L531.5 336.8L530.5 337L529.5 337.2L528.6 337.3L527.7 337.6L526.9 337.9L526.2 338.3L525.5 338.8L524.8 339.3L524.1 339.8L523.2 340.2L522.3 340.4L521.3 340.6L520.3 340.6L519.2 340.5L518.1 340.4L517.1 340.3L516.1 340.4L515.2 340.5L514.2 340.7L513.2 341L512.2 341.3L511.1 341.4L510.1 341.5L509.1 341.4L508.1 341.1L507.1 340.8L506.3 340.4L505.4 340L504.5 339.7L503.6 339.5L502.6 339.4L501.6 339.4L500.6 339.4L499.5 339.3L498.6 339.2L497.7 338.9L497 338.5L496.3 338L495.8 337.4L495.3 336.8L494.8 336.3L494.2 335.9L493.5 335.6L492.7 335.3L491.8 335.1L490.9 334.9L490 334.6L489.3 334.2L488.8 333.8L488.4 333.2L488.2 332.6L488.1 332.1L488 331.5L487.7 331L487.3 330.5L486.7 330.1L485.9 329.8L485.1 329.4L484.3 329L483.7 328.5L483.3 328L483.1 327.5L483.1 326.9L483.3 326.4L483.4 325.8L483.5 325.3L483.4 324.8L483.1 324.2L482.6 323.7L482 323.2Z" fill="none" stroke="#5a5a5a" stroke-width="1.1"/>
<path d="M536.4 351.8L535.5 352.3L534.5 352.4L533.4 352.3L532.3 352.2L531.2 352L530.2 352L529.4 352.3L528.6 352.8L527.8 353.4L527.1 354L526.2 354.6L525.3 354.8L524.3 354.8L523.2 354.4L522.2 353.8L521.2 353.2L520.2 352.6L519.3 352.3L518.4 352.2L517.5 352.4L516.6 352.7L515.6 352.9L514.6 353L513.7 352.9L512.8 352.4L512 351.7L511.2 350.8L510.6 349.9L509.9 349.2L509.1 348.7L508.2 348.4L507.3 348.4L506.2 348.4L505.2 348.4L504.2 348.2L503.4 347.7L502.7 347L502.2 346.1L501.8 345.2L501.4 344.3L500.9 343.5L500.3 342.9L499.4 342.5L498.4 342.2L497.3 341.9L496.2 341.6L495.3 341.1L494.6 340.4L494.2 339.5L494 338.6L493.9 337.6L493.8 336.7L493.5 335.8L493 335.1L492.2 334.4L491.2 333.8L490.2 333.1L489.3 332.4L488.7 331.6L488.4 330.7L488.4 329.7L488.6 328.8L489 327.8L489.2 326.9L489.3 326L489 325.2L488.6 324.3L487.9 323.3L487.4 322.4L486.9 321.4L486.8 320.5L487.1 319.6L487.6 318.7L488.4 318L489.2 317.3L489.8 316.6L490.3 315.8L490.4 315L490.4 314.1L490.2 313.1L490.2 312.1L490.3 311.2L490.7 310.4L491.4 309.7L492.4 309.3L493.4 309L494.5 308.7L495.4 308.3L496 307.8L496.5 307.1L496.8 306.2L497 305.3L497.3 304.4L497.8 303.7L498.5 303.2L499.4 302.9L500.5 302.9L501.6 302.9L502.6 303L503.5 302.8L504.3 302.5L504.9 301.9L505.4 301.1L505.9 300.3L506.5 299.5L507.2 299L508.1 298.8L509.1 298.8L510.1 299L511.1 299.4L512.1 299.6L513 299.6L513.8 299.4L514.6 298.9L515.4 298.3L516.2 297.6L517.2 297.1L518.1 296.9L519.1 297L520 297.3L520.9 297.9L521.8 298.5L522.7 299L523.6 299.2L524.5 299.2L525.6 299L526.6 298.8L527.7 298.5L528.8 298.5L529.8 298.7L530.7 299.2L531.5 300L532.1 300.9L532.7 301.8L533.4 302.6L534.2 303.1L535.1 303.5L536.1 303.8L537.2 304L538.3 304.2L539.3 304.7L540 305.4L540.5 306.3L540.8 307.3L541 308.4L541.2 309.4L541.5 310.4L541.9 311.2L542.6 311.8L543.5 312.4L544.4 313L545.2 313.6L545.8 314.4L546.2 315.2L546.2 316.2L546 317.2L545.7 318.3L545.4 319.2L545.4 320.1L545.6 320.9L546.1 321.7L546.7 322.4L547.4 323.2L548 324.1L548.3 324.9L548.2 325.8L547.9 326.7L547.3 327.5L546.7 328.2L546.3 329L546 329.8L546.1 330.6L546.5 331.5L546.9 332.4L547.4 333.4L547.6 334.4L547.6 335.3L547.3 336.1L546.7 336.7L545.9 337.3L545.1 337.9L544.5 338.5L544.1 339.2L544 340.1L544.1 341.1L544.2 342.1L544.3 343.2L544.1 344.2L543.7 345L543 345.6L542.1 346L541.1 346.2L540.1 346.5L539.3 346.9L538.7 347.5L538.2 348.2L537.8 349.2L537.5 350.2L537 351.1L536.4 351.8Z" fill="none" stroke="#5a5a5a" stroke-width="1.1"/>
<path d="M501.9 330.4L501.8 330L501.5 329.9L501 330.1L500.6 330.3L500.3 330.2L500.2 329.7L500.2 329.2L500.2 328.8L499.9 328.7L499.4 328.9L498.9 329L498.7 328.7L498.7 328.3L498.8 327.7L498.8 327.3L498.5 327.2L498 327.3L497.5 327.3L497.4 327L497.5 326.5L497.7 326L497.7 325.6L497.3 325.4L496.8 325.4L496.4 325.2L496.4 324.9L496.6 324.4L496.8 323.9L496.8 323.5L496.5 323.3L496.1 323.1L495.8 322.8L495.8 322.4L496.1 322L496.4 321.5L496.5 321.2L496.2 320.8L495.9 320.5L495.7 320.1L495.8 319.7L496.3 319.3L496.7 318.9L496.8 318.6L496.6 318.2L496.3 317.7L496.3 317.3L496.6 316.9L497.1 316.6L497.5 316.4L497.7 316L497.6 315.5L497.5 315L497.6 314.6L498 314.3L498.5 314.2L499 314L499.2 313.7L499.2 313.2L499.2 312.7L499.4 312.3L499.8 312.1L500.4 312.1L500.8 312L501 311.7L501.1 311.2L501.2 310.7L501.5 310.4L501.9 310.4L502.4 310.5L502.8 310.5L503.1 310.2L503.2 309.7L503.4 309.2L503.7 309L504.1 309.1L504.6 309.3L504.9 309.4L505.2 309.1L505.4 308.6L505.7 308.1L506 307.9L506.4 308.2L506.7 308.5L507 308.5L507.4 308.2L507.7 307.7L508.1 307.3L508.4 307.3L508.7 307.6L508.9 307.9L509.2 308L509.6 307.8L510 307.3L510.4 307L510.8 307L511 307.4L511.1 307.9L511.4 308L511.8 307.8L512.3 307.4L512.8 307.2L513 307.4L513.1 307.9L513.2 308.4L513.5 308.6L513.9 308.4L514.5 308.2L514.9 308.2L515 308.5L515 309.1L515 309.6L515.2 309.8L515.6 309.8L516.1 309.7L516.5 309.9L516.5 310.3L516.4 310.9L516.2 311.4L516.4 311.7L516.8 311.8L517.2 311.9L517.5 312.1L517.4 312.6L517.1 313.2L516.9 313.7L517 314L517.3 314.2L517.7 314.4L517.8 314.7L517.6 315.2L517.2 315.7L516.9 316.1L517 316.5L517.3 316.7L517.6 317L517.7 317.4L517.3 317.8L516.9 318.2L516.6 318.6L516.6 318.9L516.9 319.3L517.2 319.7L517.1 320L516.7 320.4L516.2 320.7L515.9 321L516 321.4L516.2 321.8L516.3 322.3L516.2 322.6L515.8 322.9L515.3 323.1L515 323.4L515 323.8L515.2 324.3L515.2 324.8L515 325.2L514.5 325.3L514 325.4L513.8 325.7L513.7 326.2L513.7 326.7L513.6 327.3L513.3 327.5L512.9 327.6L512.4 327.6L512.1 327.8L512 328.3L511.9 328.9L511.7 329.4L511.3 329.6L510.8 329.5L510.4 329.4L510.1 329.5L509.8 330L509.6 330.6L509.3 331L508.9 331L508.5 330.8L508.1 330.6L507.8 330.7L507.5 331.1L507.2 331.6L506.8 331.9L506.5 331.7L506.1 331.3L505.8 331L505.5 331.1L505.1 331.4L504.7 331.8L504.4 331.9L504.1 331.6L503.9 331.1L503.7 330.8L503.4 330.8L502.9 331L502.5 331.3L502.2 331.3L502 330.9L501.9 330.4Z" fill="none" stroke="#555" stroke-width="1.15"/>
<path d="M499.6 344.8L499.4 344.6L499.4 344.2L499.6 343.9L499.9 343.5L500.2 343.2L500.4 342.8L500.3 342.6L500.1 342.3L499.8 342L499.6 341.7L499.5 341.4L499.6 341.1L499.9 340.8L500.4 340.4L500.9 340.1L501.4 339.8L501.6 339.5L501.7 339.2L501.7 338.9L501.6 338.6L501.7 338.2L501.9 337.9L502.3 337.6L502.8 337.4L503.5 337.2L504.1 337L504.5 336.8L504.8 336.5L505 336.2L505.1 335.9L505.3 335.5L505.5 335.2L505.9 335L506.5 334.8L507.1 334.7L507.7 334.6L508.2 334.5L508.7 334.3L509 334L509.3 333.7L509.5 333.3L509.8 333L510.2 332.7L510.7 332.6L511.3 332.5L511.9 332.5L512.4 332.5L512.9 332.4L513.3 332.3L513.8 332L514.2 331.7L514.6 331.3L515.1 331.1L515.6 330.9L516.2 330.9L516.7 330.9L517.2 331L517.7 331.1L518.1 331.1L518.7 330.9L519.2 330.7L519.8 330.4L520.4 330.2L521 330L521.5 330.1L521.9 330.2L522.3 330.4L522.7 330.6L523.1 330.8L523.6 330.8L524.1 330.7L524.8 330.6L525.4 330.5L526 330.4L526.4 330.5L526.8 330.8L527 331.1L527.2 331.4L527.3 331.7L527.6 331.9L528 332L528.6 332L529.2 332.1L529.7 332.1L530.1 332.3L530.3 332.5L530.3 332.9L530.3 333.3L530.2 333.6L530.2 333.9L530.4 334.2L530.8 334.3L531.2 334.5L531.7 334.6L532 334.8L532.2 335.1L532.1 335.4L531.9 335.8L531.6 336.1L531.4 336.5L531.4 336.8L531.5 337L531.8 337.2L532.2 337.4L532.5 337.6L532.7 337.9L532.6 338.2L532.3 338.5L532 338.9L531.6 339.2L531.4 339.5L531.3 339.8L531.4 340L531.7 340.3L531.9 340.6L532 340.9L532 341.2L531.7 341.5L531.3 341.8L530.8 342.1L530.4 342.4L530.1 342.6L530 342.9L530 343.3L530.1 343.7L530.1 344L529.9 344.4L529.6 344.7L529.1 344.9L528.5 345.1L528 345.3L527.5 345.5L527.1 345.8L526.9 346.1L526.7 346.5L526.5 346.9L526.2 347.2L525.8 347.5L525.2 347.7L524.6 347.8L524 347.8L523.4 347.9L522.9 348L522.4 348.2L522 348.5L521.6 348.9L521.2 349.2L520.7 349.4L520.2 349.5L519.6 349.5L519 349.4L518.5 349.3L517.9 349.3L517.4 349.3L516.9 349.5L516.4 349.7L515.9 350L515.4 350.1L514.9 350.2L514.4 350.1L513.9 350L513.5 349.7L513.1 349.5L512.7 349.4L512.2 349.5L511.7 349.6L511.1 349.8L510.6 349.9L510 350L509.6 349.9L509.3 349.7L509 349.4L508.7 349.1L508.5 348.9L508.1 348.8L507.6 348.8L507 348.9L506.4 349L505.8 349L505.3 349L505 348.8L504.9 348.5L504.8 348.2L504.6 347.9L504.4 347.7L504 347.5L503.5 347.5L502.9 347.5L502.3 347.4L501.8 347.3L501.5 347.1L501.4 346.8L501.5 346.4L501.5 346.1L501.5 345.8L501.4 345.5L501 345.4L500.5 345.2L500 345L499.6 344.8Z" fill="none" stroke="#555" stroke-width="1.15"/>
<path d="M533.5 348.3L532.9 348.6L532.4 348.9L531.7 349L531.1 349L530.4 348.9L529.7 348.8L529.1 348.7L528.4 348.7L527.8 348.7L527.2 348.9L526.6 349.1L526 349.3L525.3 349.5L524.7 349.4L524 349.3L523.4 349L522.8 348.6L522.2 348.2L521.6 347.7L521 347.4L520.5 347.1L519.9 346.9L519.2 346.8L518.6 346.7L517.9 346.6L517.3 346.3L516.8 346L516.3 345.5L515.8 345L515.5 344.3L515.1 343.7L514.7 343.2L514.3 342.7L513.9 342.3L513.3 341.9L512.8 341.6L512.2 341.3L511.6 341L511.2 340.5L510.8 340L510.5 339.4L510.3 338.8L510.2 338.1L510 337.5L509.8 337L509.5 336.4L509.1 336L508.6 335.5L508.1 335.1L507.6 334.6L507.2 334L506.9 333.5L506.7 332.9L506.7 332.2L506.7 331.6L506.7 331L506.7 330.4L506.6 329.8L506.4 329.2L506.1 328.6L505.7 328L505.4 327.3L505.1 326.7L504.9 326L504.9 325.4L505.1 324.8L505.3 324.2L505.6 323.6L505.9 323L506.1 322.5L506.2 321.9L506.2 321.2L506.2 320.6L506.1 319.9L506.1 319.2L506.3 318.5L506.5 317.9L506.9 317.4L507.4 317L507.9 316.6L508.5 316.3L509 315.9L509.5 315.5L509.8 315.1L510.1 314.6L510.4 314L510.7 313.4L511 312.9L511.5 312.5L512 312.2L512.6 312L513.3 311.9L514 311.9L514.7 311.8L515.3 311.7L515.9 311.6L516.4 311.3L516.8 310.9L517.3 310.5L517.8 310.2L518.3 309.9L518.9 309.8L519.5 309.8L520.2 309.9L520.8 310L521.4 310.2L522.1 310.4L522.6 310.4L523.2 310.4L523.8 310.2L524.3 310L524.9 309.7L525.5 309.6L526.1 309.5L526.8 309.6L527.4 309.8L527.9 310.1L528.5 310.5L529.1 310.8L529.6 311L530.2 311.2L530.8 311.2L531.5 311.2L532.2 311.2L532.9 311.2L533.5 311.3L534.1 311.5L534.7 311.8L535.2 312.3L535.7 312.8L536.1 313.3L536.6 313.8L537.1 314.2L537.6 314.5L538.2 314.8L538.9 315.1L539.6 315.3L540.2 315.7L540.8 316.1L541.2 316.7L541.5 317.3L541.8 317.9L541.9 318.6L542.1 319.3L542.4 319.9L542.7 320.5L543 321L543.5 321.5L544 322L544.4 322.6L544.7 323.2L545 323.8L545 324.5L545 325.1L544.8 325.8L544.7 326.5L544.6 327.1L544.5 327.7L544.6 328.3L544.7 328.9L544.9 329.6L545.1 330.2L545.3 330.8L545.3 331.4L545.2 332L544.9 332.6L544.6 333.1L544.2 333.7L543.8 334.1L543.5 334.7L543.3 335.2L543.3 335.8L543.2 336.4L543.3 337L543.3 337.6L543.2 338.2L542.9 338.8L542.6 339.3L542.2 339.7L541.7 340L541.2 340.4L540.7 340.7L540.4 341.1L540.1 341.6L539.9 342.2L539.7 342.8L539.5 343.5L539.3 344L539 344.6L538.5 345L538 345.3L537.4 345.5L536.8 345.6L536.3 345.8L535.7 346L535.2 346.4L534.8 346.8L534.4 347.3L533.9 347.8L533.5 348.3Z" fill="none" stroke="#555" stroke-width="1.15"/>
<path d="M501 341.8L501.1 340.8L500.9 340.2L500.4 339.9L499.6 340L498.8 340L498.2 339.7L498.1 339L498.3 338.1L498.6 337.1L498.6 336.4L498.2 336.1L497.5 335.9L496.8 335.8L496.3 335.4L496.3 334.7L496.7 333.7L497.2 332.8L497.3 332.1L497 331.7L496.4 331.3L495.7 331L495.4 330.5L495.5 329.8L496.1 328.9L496.6 328.1L496.9 327.4L496.7 326.8L496.2 326.3L495.6 325.7L495.4 325.1L495.7 324.3L496.4 323.5L497.1 322.8L497.5 322.1L497.5 321.4L497.1 320.7L496.8 319.9L496.9 319.2L497.3 318.4L498.1 317.7L498.9 317.1L499.5 316.4L499.7 315.7L499.7 314.8L499.6 313.9L499.9 313.1L500.6 312.4L501.5 311.9L502.4 311.5L503.1 310.9L503.6 310.2L503.8 309.3L504.1 308.3L504.5 307.5L505.3 307L506.3 306.8L507.2 306.6L508 306.2L508.6 305.6L509.1 304.7L509.6 303.8L510.2 303.2L511 302.9L511.9 302.9L512.8 303L513.6 302.9L514.3 302.4L514.9 301.6L515.5 300.8L516.2 300.3L517 300.2L517.8 300.5L518.5 300.8L519.1 300.9L519.8 300.5L520.6 299.8L521.3 299.1L522.1 298.7L522.7 298.8L523.3 299.3L523.8 299.8L524.4 300L525.1 299.7L525.9 299.1L526.8 298.5L527.6 298.2L528.2 298.4L528.6 299L528.9 299.6L529.4 299.9L530.1 299.8L531 299.3L532 298.9L532.8 298.7L533.3 299L533.5 299.7L533.7 300.4L534 300.9L534.7 300.9L535.7 300.6L536.7 300.3L537.4 300.4L537.8 300.9L537.8 301.7L537.8 302.5L538 303.1L538.6 303.3L539.5 303.3L540.4 303.3L541 303.6L541.2 304.2L541 305.1L540.7 306L540.6 306.7L541.1 307.2L541.8 307.4L542.5 307.7L542.9 308.2L542.8 309L542.3 310L541.8 310.9L541.5 311.7L541.7 312.3L542.2 312.8L542.7 313.3L542.8 314L542.5 314.8L541.7 315.6L540.9 316.5L540.5 317.3L540.4 317.9L540.7 318.6L540.9 319.3L540.9 320L540.3 320.8L539.5 321.5L538.5 322.2L537.9 322.8L537.7 323.5L537.8 324.3L537.8 325.1L537.6 325.8L537 326.5L536.1 327L535.1 327.5L534.5 328L534.1 328.7L534 329.5L533.9 330.4L533.6 331.2L532.9 331.7L532 332.1L531.1 332.4L530.4 332.8L530 333.5L529.7 334.4L529.4 335.3L528.9 336.1L528.2 336.5L527.3 336.7L526.5 336.8L525.8 337.2L525.2 337.8L524.7 338.8L524.2 339.7L523.6 340.5L522.8 340.8L522 340.8L521.2 340.7L520.5 340.9L519.8 341.4L519.1 342.3L518.4 343.2L517.6 343.8L516.8 344L516.1 343.7L515.5 343.4L514.8 343.4L514 343.8L513.2 344.5L512.3 345.2L511.4 345.6L510.8 345.5L510.2 345L509.7 344.4L509.2 344.1L508.4 344.3L507.5 344.8L506.6 345.2L505.8 345.4L505.3 345L505 344.2L504.8 343.4L504.4 342.9L503.8 342.9L502.9 343.1L502 343.3L501.3 343.2L501 342.7L501 341.8Z" fill="none" stroke="#555" stroke-width="1.15"/>
<path d="M538.2 329.7L537.6 330.2L537.3 330.9L537.4 331.8L537.5 332.7L537.3 333.5L536.6 334L535.6 334.4L534.6 334.6L533.8 335L533.5 335.7L533.4 336.6L533.2 337.6L532.9 338.3L532.1 338.8L531.1 338.9L530.1 339L529.3 339.3L528.7 339.9L528.4 340.8L528.1 341.8L527.5 342.5L526.6 342.8L525.6 342.7L524.6 342.6L523.7 342.8L523 343.3L522.5 344.2L521.8 345L521 345.6L520.1 345.7L519.1 345.4L518.1 345.1L517.2 345L516.4 345.4L515.5 346L514.7 346.7L513.7 347L512.8 346.9L511.9 346.3L511 345.8L510.1 345.4L509.2 345.5L508.2 345.9L507.2 346.3L506.2 346.3L505.3 345.9L504.6 345.1L503.9 344.3L503.2 343.7L502.3 343.6L501.3 343.7L500.2 343.7L499.3 343.5L498.6 342.9L498.2 341.9L497.8 341L497.3 340.2L496.5 339.9L495.6 339.7L494.5 339.6L493.7 339.2L493.3 338.4L493.1 337.4L493.1 336.4L492.8 335.6L492.2 335.1L491.2 334.8L490.3 334.4L489.6 333.9L489.3 333.1L489.5 332.2L489.6 331.2L489.6 330.4L489 329.8L488.2 329.3L487.3 328.8L486.7 328.2L486.6 327.4L486.9 326.5L487.3 325.7L487.3 324.9L486.9 324.2L486.1 323.6L485.3 322.9L484.9 322.1L484.9 321.3L485.4 320.5L485.9 319.8L486.2 319L485.9 318.3L485.3 317.4L484.7 316.6L484.4 315.7L484.7 314.9L485.4 314.2L486.1 313.6L486.5 312.9L486.5 312.1L486.2 311.1L485.9 310.1L485.9 309.2L486.4 308.6L487.3 308L488.3 307.6L488.9 307L489.2 306.2L489.2 305.3L489.2 304.3L489.6 303.4L490.4 302.9L491.4 302.7L492.5 302.5L493.4 302.1L494 301.5L494.3 300.6L494.6 299.7L495.2 299L496.2 298.7L497.3 298.8L498.5 298.9L499.4 298.8L500.1 298.4L500.7 297.6L501.3 296.9L502.1 296.4L503 296.4L504.1 296.7L505.2 297.1L506.1 297.2L506.9 296.9L507.7 296.3L508.4 295.7L509.3 295.4L510.2 295.6L511.1 296.1L512 296.7L512.9 297L513.7 296.8L514.6 296.4L515.5 295.9L516.4 295.7L517.2 296L518 296.7L518.7 297.4L519.4 297.8L520.3 297.7L521.3 297.4L522.3 297.1L523.3 297.1L524.1 297.5L524.7 298.2L525.2 299L525.9 299.5L526.8 299.6L527.8 299.5L529 299.4L530 299.5L530.6 300.1L531 300.9L531.4 301.8L531.9 302.4L532.8 302.7L533.9 302.9L535.1 303L536 303.4L536.5 304.1L536.6 305.1L536.7 306L537 306.8L537.7 307.3L538.7 307.7L539.8 308.2L540.5 308.8L540.7 309.6L540.6 310.6L540.3 311.5L540.3 312.4L540.8 313.1L541.6 313.7L542.4 314.4L542.9 315.2L542.8 316L542.3 316.9L541.7 317.8L541.4 318.6L541.6 319.4L542.1 320.2L542.6 321L542.8 321.8L542.4 322.6L541.7 323.3L540.8 324L540.3 324.7L540.2 325.5L540.5 326.3L540.8 327.2L540.7 328L540.2 328.7L539.2 329.2L538.2 329.7Z" fill="none" stroke="#555" stroke-width="1.15"/>
<path d="M540.7 327.3L541.2 327.8L541.4 328.3L541.4 328.9L541.1 329.4L540.7 329.9L540.2 330.3L539.6 330.8L539.2 331.2L538.9 331.7L538.8 332.2L538.8 332.8L538.9 333.3L538.9 333.9L538.7 334.5L538.4 335L537.8 335.4L537.1 335.7L536.2 336L535.3 336.3L534.4 336.5L533.7 336.8L533.1 337.2L532.6 337.6L532.2 338.1L531.8 338.6L531.3 339L530.7 339.4L529.9 339.6L529 339.8L528 339.8L526.9 339.8L525.9 339.8L525 339.9L524.2 340L523.4 340.2L522.7 340.5L522.1 340.8L521.4 341.2L520.6 341.4L519.8 341.6L518.9 341.6L518 341.5L517 341.3L516.1 341.1L515.2 341L514.4 340.9L513.6 340.9L512.8 341.1L511.9 341.3L511.1 341.5L510.2 341.7L509.3 341.8L508.4 341.7L507.6 341.6L506.7 341.3L506 341L505.2 340.7L504.4 340.4L503.6 340.3L502.7 340.2L501.8 340.3L500.8 340.3L499.8 340.4L498.8 340.3L497.9 340.1L497.1 339.9L496.4 339.5L495.8 339L495.2 338.6L494.7 338.1L494.1 337.8L493.3 337.5L492.4 337.2L491.5 337L490.5 336.8L489.6 336.6L488.8 336.2L488.1 335.8L487.7 335.3L487.5 334.7L487.3 334.2L487.2 333.6L487 333.1L486.7 332.6L486.2 332.1L485.6 331.7L484.9 331.3L484.2 330.8L483.7 330.4L483.4 329.9L483.3 329.3L483.5 328.8L483.8 328.2L484.2 327.7L484.5 327.1L484.7 326.6L484.7 326.1L484.5 325.6L484.2 325.1L483.9 324.6L483.7 324.1L483.6 323.6L483.8 323.1L484.2 322.6L484.8 322.2L485.5 321.8L486.1 321.4L486.6 321L487 320.6L487.1 320.1L487.2 319.6L487.1 319.1L487.1 318.5L487.2 318L487.5 317.5L488 317.1L488.7 316.8L489.5 316.5L490.3 316.3L491 316L491.6 315.7L492.1 315.3L492.4 314.8L492.7 314.3L492.9 313.8L493.3 313.2L493.7 312.8L494.4 312.4L495.2 312.2L496 312L497 311.9L497.9 311.8L498.7 311.7L499.4 311.5L500.1 311.1L500.8 310.7L501.4 310.3L502.1 309.8L502.8 309.5L503.7 309.3L504.6 309.2L505.6 309.2L506.5 309.3L507.5 309.5L508.5 309.6L509.4 309.7L510.2 309.6L511.1 309.5L512 309.3L513 309.1L513.9 309L514.9 308.9L515.8 309L516.7 309.3L517.5 309.6L518.3 310.1L519.1 310.5L519.8 310.8L520.6 311.1L521.5 311.2L522.4 311.3L523.3 311.4L524.3 311.4L525.1 311.6L526 311.9L526.6 312.2L527.2 312.7L527.7 313.2L528.1 313.8L528.5 314.3L529 314.7L529.6 315L530.3 315.3L531.2 315.5L532 315.8L532.8 316L533.5 316.4L534.1 316.8L534.4 317.3L534.6 317.8L534.7 318.3L534.9 318.9L535.1 319.3L535.4 319.8L535.9 320.2L536.6 320.5L537.4 320.9L538.2 321.3L538.8 321.7L539.2 322.2L539.5 322.7L539.5 323.2L539.4 323.7L539.2 324.2L539.1 324.7L539.1 325.2L539.3 325.7L539.7 326.2L540.2 326.7L540.7 327.3Z" fill="none" stroke="#555" stroke-width="1.15"/>
<path d="M529.4 331.7L529.1 332.2L529 332.8L529.2 333.5L529.4 334.2L529.5 334.9L529.2 335.4L528.7 335.8L527.9 336.1L527.1 336.4L526.5 336.7L526.2 337.2L526.1 337.9L526.2 338.7L526.1 339.4L525.9 340.1L525.3 340.5L524.6 340.7L523.8 340.7L523 340.9L522.4 341.2L522.1 341.7L521.8 342.4L521.6 343.2L521.3 343.9L520.7 344.4L520 344.5L519.1 344.4L518.3 344.3L517.6 344.3L517 344.6L516.4 345.1L515.9 345.8L515.4 346.4L514.7 346.8L514 346.9L513.2 346.7L512.4 346.3L511.7 346L511 345.9L510.3 346.1L509.6 346.5L508.8 346.9L508.1 347.2L507.3 347.2L506.6 346.9L506 346.3L505.4 345.7L504.8 345.2L504.2 345L503.4 345.1L502.6 345.3L501.8 345.4L501 345.3L500.4 345L500 344.3L499.6 343.5L499.3 342.8L498.9 342.3L498.3 342.1L497.5 342L496.7 342L495.9 341.9L495.3 341.5L495 340.9L494.9 340.1L494.8 339.3L494.6 338.7L494.3 338.2L493.6 338L492.8 337.8L492 337.6L491.4 337.2L491.1 336.6L491 336L491.2 335.2L491.3 334.5L491.2 333.9L490.7 333.5L490 333.1L489.2 332.7L488.6 332.3L488.2 331.8L488.2 331.1L488.4 330.4L488.7 329.8L488.9 329.2L488.8 328.6L488.3 328L487.7 327.5L487 326.9L486.6 326.3L486.6 325.6L486.9 325L487.5 324.4L488 323.9L488.2 323.3L488.1 322.7L487.8 322L487.4 321.2L487.1 320.5L487.1 319.8L487.6 319.3L488.2 318.8L489 318.4L489.6 318L490 317.5L490.1 316.8L490 316L489.9 315.2L490.1 314.6L490.6 314.1L491.3 313.8L492.2 313.6L493.1 313.4L493.8 313.2L494.2 312.7L494.5 312.1L494.7 311.3L495 310.7L495.5 310.2L496.3 310.1L497.2 310.1L498.1 310.2L498.9 310.3L499.6 310.1L500.1 309.7L500.5 309.1L500.9 308.5L501.5 308.1L502.2 307.9L503 308.1L503.8 308.4L504.6 308.7L505.3 308.9L505.9 308.7L506.5 308.3L507 307.7L507.7 307.3L508.3 307.1L509 307.2L509.7 307.6L510.4 308.1L511 308.5L511.6 308.6L512.3 308.4L513.1 308L513.8 307.6L514.6 307.4L515.3 307.5L515.9 307.9L516.4 308.5L516.9 309L517.4 309.4L518.1 309.5L518.9 309.3L519.8 309.1L520.7 309L521.5 309.1L522 309.5L522.4 310.1L522.7 310.8L523.1 311.4L523.6 311.8L524.3 312L525.2 312.1L526.1 312.2L526.9 312.4L527.5 312.8L527.7 313.5L527.8 314.3L527.8 315.1L528 315.7L528.4 316.2L529.1 316.5L529.9 316.9L530.7 317.2L531.2 317.8L531.3 318.4L531.1 319.2L530.8 320L530.6 320.7L530.6 321.3L530.9 321.8L531.5 322.4L532.1 322.9L532.5 323.5L532.6 324.1L532.3 324.8L531.7 325.4L531.1 326.1L530.8 326.7L530.7 327.2L531 327.8L531.4 328.5L531.7 329.1L531.8 329.7L531.5 330.3L530.8 330.8L530.1 331.3L529.4 331.7Z" fill="none" stroke="#555" stroke-width="1.15"/>
<path d="M545.2 324.4L544.7 324.7L544.1 325.1L543.7 325.4L543.6 325.8L543.8 326.2L544 326.7L543.9 327.1L543.4 327.4L542.6 327.6L541.9 327.9L541.5 328.2L541.4 328.6L541.5 329L541.3 329.4L540.8 329.7L540.1 329.9L539.2 330L538.6 330.1L538.2 330.5L538.1 330.9L537.9 331.3L537.5 331.6L536.7 331.7L535.9 331.7L535.1 331.7L534.6 331.9L534.3 332.3L534 332.7L533.6 333L532.9 333.1L532.1 333.1L531.3 333L530.6 333.1L530.1 333.3L529.7 333.7L529.2 334.1L528.6 334.2L527.8 334.1L527 334L526.3 333.9L525.7 334L525.1 334.4L524.5 334.7L523.8 334.8L523.1 334.8L522.3 334.5L521.6 334.3L520.9 334.3L520.2 334.5L519.4 334.7L518.6 334.9L517.9 334.8L517.2 334.5L516.5 334.2L515.9 334L515.1 333.9L514.3 334L513.4 334.1L512.6 334L512 333.7L511.5 333.3L511 332.9L510.3 332.7L509.5 332.6L508.6 332.6L507.9 332.4L507.3 332.1L507 331.6L506.7 331.1L506.3 330.8L505.6 330.5L504.8 330.4L504 330.2L503.5 329.8L503.3 329.4L503.3 328.9L503.2 328.4L502.7 328.1L502.1 327.8L501.4 327.5L500.9 327.2L500.8 326.8L500.9 326.3L501.1 325.8L500.9 325.5L500.5 325.1L499.8 324.8L499.3 324.5L499.2 324.1L499.4 323.6L499.8 323.2L499.9 322.8L499.7 322.5L499.2 322.1L498.7 321.7L498.5 321.3L498.7 320.9L499.2 320.6L499.6 320.2L499.6 319.9L499.2 319.5L498.8 319L498.6 318.6L498.7 318.2L499.2 317.9L499.8 317.6L500.1 317.3L500 316.9L499.7 316.4L499.5 315.9L499.7 315.5L500.2 315.3L500.9 315L501.4 314.8L501.6 314.4L501.6 314L501.5 313.5L501.7 313L502.3 312.8L503 312.6L503.8 312.5L504.3 312.3L504.6 311.9L504.8 311.4L505 311L505.6 310.7L506.4 310.7L507.3 310.7L508 310.6L508.6 310.4L509 310L509.4 309.6L510.1 309.4L510.9 309.4L511.8 309.5L512.6 309.7L513.3 309.6L513.9 309.4L514.5 309.1L515.2 308.9L515.9 308.9L516.7 309.2L517.5 309.4L518.3 309.6L519 309.5L519.7 309.3L520.4 309.2L521.1 309.2L521.8 309.5L522.5 309.9L523.2 310.2L523.8 310.3L524.6 310.2L525.3 310.1L526.1 310.1L526.7 310.4L527.2 310.8L527.8 311.1L528.3 311.4L529.1 311.4L529.9 311.4L530.7 311.4L531.3 311.6L531.7 312L532.1 312.4L532.5 312.8L533.2 313L534 313L534.9 313.1L535.6 313.3L536 313.6L536.2 314.1L536.5 314.5L537 314.8L537.8 315L538.7 315.1L539.4 315.3L539.9 315.7L540 316.1L540.1 316.6L540.3 316.9L540.9 317.2L541.7 317.5L542.5 317.8L543 318.2L543 318.6L542.9 319L542.9 319.5L543.2 319.9L543.8 320.2L544.4 320.6L544.9 321L544.9 321.4L544.6 321.8L544.2 322.3L544.1 322.7L544.4 323.1L544.9 323.5L545.2 323.9L545.2 324.4Z" fill="none" stroke="#555" stroke-width="1.15"/>
<path d="M545.3 334.5L545.6 335L545.7 335.4L545.5 335.8L545.1 336.1L544.5 336.4L544 336.6L543.5 336.9L543.2 337.2L543 337.5L543 338L543.1 338.4L543.1 338.9L543 339.3L542.6 339.6L542.1 339.9L541.3 340L540.5 340.1L539.7 340.1L539 340.2L538.4 340.4L538 340.6L537.7 341L537.4 341.4L537 341.7L536.6 341.9L535.9 342.1L535.2 342.1L534.3 342L533.4 341.9L532.6 341.7L531.8 341.7L531.2 341.7L530.6 341.9L530.1 342.1L529.6 342.3L529 342.5L528.3 342.6L527.6 342.6L526.9 342.4L526.1 342.2L525.3 341.9L524.6 341.7L523.9 341.5L523.3 341.5L522.6 341.6L521.9 341.7L521.2 341.9L520.5 342L519.8 341.9L519.1 341.8L518.4 341.5L517.8 341.2L517.2 340.8L516.6 340.5L515.9 340.3L515.2 340.2L514.5 340.2L513.6 340.2L512.8 340.2L512 340.2L511.2 340L510.6 339.7L510.1 339.3L509.6 338.9L509.2 338.5L508.7 338.1L508.2 337.8L507.5 337.6L506.6 337.4L505.8 337.3L504.9 337.1L504.2 336.8L503.6 336.4L503.2 336L503 335.6L502.9 335.1L502.8 334.7L502.5 334.2L502.2 333.9L501.6 333.5L501 333.2L500.3 332.8L499.7 332.5L499.2 332.1L499 331.6L499 331.2L499.3 330.8L499.5 330.4L499.8 330L499.9 329.6L499.8 329.2L499.5 328.8L499.1 328.4L498.7 328L498.4 327.6L498.4 327.2L498.5 326.8L498.9 326.5L499.5 326.2L500 325.9L500.5 325.6L500.8 325.3L500.9 325L500.9 324.6L500.7 324.2L500.5 323.7L500.5 323.3L500.7 323L501.1 322.7L501.7 322.5L502.4 322.4L503.1 322.2L503.7 322.1L504.1 321.8L504.3 321.5L504.4 321.1L504.4 320.7L504.5 320.2L504.7 319.9L505.1 319.6L505.7 319.4L506.4 319.4L507.2 319.3L507.9 319.3L508.5 319.2L509.1 319L509.5 318.8L509.8 318.4L510.1 318L510.5 317.6L511.1 317.4L511.7 317.2L512.4 317.2L513.2 317.3L514.1 317.5L514.8 317.6L515.6 317.6L516.2 317.6L516.8 317.4L517.5 317.2L518.1 316.9L518.8 316.8L519.6 316.7L520.3 316.8L521.1 317L521.9 317.3L522.6 317.7L523.3 318L524 318.2L524.7 318.3L525.5 318.3L526.3 318.3L527.1 318.2L527.9 318.3L528.6 318.5L529.3 318.8L529.9 319.2L530.4 319.6L530.9 320.1L531.3 320.5L531.9 320.8L532.5 321L533.3 321.2L534 321.3L534.8 321.5L535.5 321.7L536.1 322L536.5 322.4L536.8 322.9L537 323.3L537.2 323.8L537.4 324.2L537.8 324.5L538.4 324.8L539 325.1L539.8 325.3L540.5 325.6L541.1 325.9L541.4 326.3L541.6 326.7L541.6 327.1L541.6 327.5L541.5 327.9L541.6 328.3L541.9 328.7L542.4 329L543.1 329.4L543.7 329.8L544.3 330.1L544.7 330.5L544.9 330.9L544.8 331.3L544.6 331.7L544.3 332.1L544 332.4L544 332.8L544.1 333.2L544.5 333.6L544.9 334.1L545.3 334.5Z" fill="none" stroke="#555" stroke-width="1.15"/>
<path d="M500.8 334.1L500.7 333.2L500.6 332.4L500.2 331.7L499.4 331.4L498.5 331.2L497.9 330.7L497.7 330L497.8 329.1L497.9 328.2L497.6 327.6L496.8 327.2L496.1 326.8L495.7 326.2L495.9 325.4L496.3 324.5L496.4 323.8L496.1 323.2L495.4 322.7L494.8 322.1L494.8 321.4L495.3 320.6L495.8 319.9L495.9 319.2L495.4 318.6L494.8 318L494.6 317.3L494.8 316.6L495.5 316L496 315.3L496 314.7L495.5 314L495.1 313.2L495.1 312.5L495.6 311.9L496.4 311.4L496.8 310.8L496.8 310.1L496.4 309.3L496.2 308.4L496.6 307.8L497.3 307.3L498.1 306.9L498.5 306.3L498.5 305.5L498.3 304.6L498.5 303.8L499.1 303.3L500 303L500.8 302.6L501.2 302L501.3 301.2L501.5 300.3L502 299.6L502.8 299.4L503.8 299.3L504.6 299L505.1 298.4L505.4 297.5L505.9 296.8L506.6 296.4L507.6 296.5L508.6 296.6L509.3 296.4L509.9 295.8L510.5 295L511.2 294.6L512.1 294.6L513 294.9L513.9 295.2L514.7 295L515.4 294.5L516.1 293.9L516.9 293.8L517.7 294.2L518.5 294.7L519.3 295L520.1 294.9L520.9 294.5L521.7 294.2L522.5 294.4L523.1 295L523.8 295.6L524.4 295.9L525.2 295.8L526.1 295.5L526.9 295.5L527.5 295.9L528 296.7L528.5 297.3L529.2 297.6L530 297.4L531 297.3L531.7 297.5L532.1 298.2L532.4 299L532.8 299.6L533.6 299.7L534.5 299.7L535.4 299.8L536 300.2L536.2 301L536.3 301.8L536.8 302.3L537.6 302.5L538.6 302.6L539.4 302.9L539.7 303.6L539.7 304.4L539.8 305.1L540.3 305.6L541.2 306L542.1 306.3L542.6 306.9L542.6 307.6L542.4 308.5L542.4 309.2L543 309.7L543.8 310.2L544.5 310.8L544.6 311.5L544.3 312.3L543.9 313.1L543.9 313.8L544.4 314.5L545 315.1L545.4 315.9L545.1 316.6L544.5 317.3L543.9 318L543.9 318.7L544.2 319.5L544.6 320.3L544.5 321L543.9 321.6L543 322.2L542.4 322.8L542.3 323.5L542.5 324.3L542.5 325.1L542 325.7L541.1 326.1L540.2 326.5L539.6 327L539.5 327.7L539.5 328.6L539.2 329.2L538.4 329.7L537.4 329.8L536.5 330.1L536 330.6L535.8 331.3L535.5 332.1L535 332.6L534.1 332.8L533.1 332.8L532.3 333L531.9 333.5L531.5 334.3L531.1 335L530.4 335.3L529.5 335.2L528.6 335.1L527.9 335.3L527.3 335.9L526.9 336.7L526.2 337.2L525.4 337.3L524.6 337L523.8 336.9L523.1 337.1L522.4 337.8L521.7 338.5L521 338.7L520.2 338.5L519.4 338.1L518.6 338L517.9 338.3L517.1 338.9L516.2 339.3L515.4 339.3L514.7 338.9L514 338.4L513.3 338.2L512.4 338.5L511.4 338.9L510.6 339L509.8 338.6L509.3 338L508.7 337.4L508 337.2L507 337.3L506 337.5L505.2 337.2L504.8 336.6L504.4 335.7L504 335.1L503.2 334.9L502.2 334.8L501.4 334.7L500.8 334.1Z" fill="none" stroke="#555" stroke-width="1.15"/>
<path d="M512.3 334.8L512.5 334.3L512.5 334L512.1 333.8L511.5 333.6L511.1 333.4L510.9 333.1L511.1 332.7L511.6 332.2L512.1 331.7L512.4 331.3L512.4 330.9L512 330.7L511.5 330.4L511.3 330.1L511.3 329.7L511.7 329.3L512.3 328.8L512.9 328.4L513.2 328L513.1 327.7L512.9 327.3L512.6 326.9L512.5 326.5L512.8 326.1L513.4 325.7L514.1 325.3L514.7 325L515 324.6L515.1 324.1L515 323.7L515 323.2L515.2 322.7L515.7 322.3L516.5 322.1L517.2 321.8L517.9 321.5L518.3 321.1L518.5 320.6L518.7 320.1L518.9 319.5L519.5 319.1L520.2 318.9L521 318.8L521.8 318.6L522.4 318.4L522.9 318L523.3 317.5L523.8 317L524.3 316.6L525 316.3L525.7 316.3L526.5 316.3L527.2 316.3L527.8 316.2L528.4 315.8L529 315.4L529.6 315L530.2 314.7L530.9 314.7L531.5 314.8L532.1 315L532.7 315.1L533.3 315.1L533.9 314.8L534.6 314.4L535.3 314.1L535.9 314L536.4 314.2L536.8 314.5L537.2 314.8L537.7 315L538.2 314.9L538.9 314.6L539.7 314.3L540.4 314.2L540.9 314.2L541.2 314.5L541.4 314.9L541.7 315.3L542 315.5L542.7 315.4L543.4 315.2L544.2 315L544.9 315L545.2 315.2L545.4 315.6L545.4 316L545.5 316.4L545.9 316.5L546.6 316.5L547.4 316.4L548.2 316.4L548.7 316.5L548.8 316.9L548.7 317.3L548.6 317.8L548.6 318.1L549 318.3L549.7 318.4L550.4 318.5L551 318.7L551.2 319L551.1 319.4L550.7 319.9L550.4 320.4L550.4 320.8L550.7 321.1L551.2 321.3L551.8 321.6L552 321.9L551.9 322.3L551.4 322.8L550.8 323.3L550.4 323.8L550.2 324.2L550.4 324.5L550.7 324.9L550.9 325.3L550.8 325.7L550.3 326.1L549.6 326.6L548.8 327L548.3 327.4L548 327.8L548 328.2L548.1 328.6L548 329.1L547.6 329.5L546.9 329.8L546.1 330.1L545.3 330.4L544.7 330.7L544.4 331.1L544.3 331.6L544.1 332.1L543.8 332.5L543.3 332.8L542.5 333L541.7 333.2L541 333.4L540.4 333.7L540.1 334.1L539.8 334.6L539.5 335.1L539 335.4L538.3 335.7L537.6 335.7L536.9 335.8L536.2 335.9L535.7 336.2L535.2 336.6L534.8 337.1L534.3 337.6L533.7 337.9L533 338L532.4 337.9L531.7 337.9L531.1 338L530.5 338.3L529.9 338.7L529.3 339.2L528.6 339.6L528 339.8L527.4 339.7L526.8 339.5L526.3 339.3L525.7 339.4L525 339.7L524.3 340.1L523.5 340.4L522.7 340.6L522.2 340.6L521.8 340.3L521.4 340L521 339.7L520.4 339.7L519.7 339.9L518.9 340.2L518.1 340.4L517.5 340.3L517.1 340L517 339.6L516.9 339.1L516.6 338.8L516.1 338.7L515.4 338.8L514.6 338.9L514 338.8L513.6 338.6L513.6 338.1L513.8 337.6L513.9 337.1L513.8 336.8L513.3 336.6L512.7 336.5L512.1 336.5L511.7 336.3L511.6 335.9L511.9 335.4L512.3 334.8Z" fill="none" stroke="#555" stroke-width="1.15"/>
<path d="M505.4 334.9L504.8 335.2L504.1 335.5L503.5 335.6L503 335.5L502.6 335.1L502.3 334.6L502.1 334.1L501.8 333.6L501.4 333.3L500.9 333.3L500.2 333.3L499.5 333.4L498.9 333.3L498.5 333L498.2 332.5L498.1 331.9L498.1 331.2L498 330.7L497.7 330.2L497.3 330L496.7 329.8L496.1 329.6L495.6 329.2L495.3 328.8L495.2 328.2L495.4 327.5L495.6 326.8L495.7 326.2L495.7 325.7L495.4 325.2L495 324.8L494.5 324.4L494.2 323.9L494.2 323.3L494.4 322.7L494.7 322.1L495.2 321.5L495.5 320.9L495.7 320.4L495.6 319.9L495.3 319.3L495.1 318.8L495 318.2L495.1 317.7L495.5 317.1L496 316.7L496.6 316.2L497.1 315.8L497.3 315.3L497.4 314.8L497.3 314.2L497.2 313.6L497.2 313L497.5 312.5L497.9 312.1L498.5 311.8L499.1 311.5L499.6 311.2L500 310.8L500.1 310.3L500.2 309.7L500.2 309L500.4 308.4L500.7 307.9L501.2 307.6L501.8 307.5L502.4 307.4L503 307.2L503.4 306.9L503.7 306.3L503.9 305.7L504.2 305L504.5 304.4L504.9 304L505.5 303.8L506.1 303.8L506.7 303.9L507.2 303.9L507.7 303.7L508.1 303.3L508.6 302.7L509 302.1L509.5 301.6L510.1 301.4L510.6 301.4L511.2 301.6L511.7 301.9L512.2 302.1L512.7 302.1L513.3 301.9L513.9 301.5L514.4 301.1L515 300.8L515.6 300.9L516.1 301.1L516.5 301.6L516.9 302.1L517.3 302.6L517.7 302.8L518.3 302.8L518.9 302.6L519.5 302.5L520.1 302.4L520.6 302.7L520.9 303.1L521.1 303.8L521.2 304.5L521.4 305L521.8 305.4L522.2 305.6L522.8 305.6L523.4 305.6L523.9 305.8L524.3 306.2L524.4 306.7L524.4 307.4L524.4 308.1L524.4 308.7L524.6 309.1L525 309.4L525.5 309.6L526.1 309.8L526.5 310.1L526.8 310.5L526.8 311.1L526.6 311.8L526.4 312.4L526.3 313L526.4 313.4L526.7 313.8L527.2 314.2L527.7 314.6L528.1 315L528.3 315.5L528.2 316.1L527.9 316.6L527.5 317.2L527.3 317.8L527.3 318.3L527.5 318.8L527.9 319.3L528.3 319.8L528.5 320.4L528.5 321L528.2 321.5L527.8 322L527.3 322.5L526.9 323L526.7 323.5L526.8 324.1L526.9 324.7L527.1 325.4L527.1 326.1L526.9 326.6L526.4 327.1L525.8 327.5L525.2 327.8L524.7 328.1L524.3 328.5L524.1 329.1L524 329.7L523.9 330.4L523.7 331L523.3 331.5L522.7 331.8L522 331.9L521.3 331.9L520.7 332L520.2 332.3L519.9 332.8L519.6 333.3L519.3 333.9L518.9 334.4L518.4 334.7L517.8 334.8L517.1 334.6L516.5 334.4L515.9 334.3L515.4 334.4L515 334.7L514.6 335.2L514.1 335.7L513.6 336.1L513.1 336.2L512.6 336.1L512.1 335.8L511.6 335.4L511.1 335.2L510.6 335.1L510.1 335.4L509.6 335.7L509 336.1L508.5 336.4L508 336.4L507.5 336.2L507.1 335.8L506.7 335.3L506.4 335L505.9 334.8L505.4 334.9Z" fill="none" stroke="#555" stroke-width="1.15"/>
<path d="M517.7 332.6L517.3 332.1L516.9 331.7L516.4 331.4L515.9 331.3L515.4 331.3L514.8 331.4L514.2 331.4L513.6 331.3L513.1 331L512.8 330.5L512.5 330L512.3 329.4L512.1 328.9L511.8 328.4L511.4 328.1L511 327.9L510.4 327.7L509.8 327.6L509.2 327.4L508.7 327.1L508.4 326.7L508.2 326.2L508.1 325.6L508.1 325L508 324.5L507.8 324L507.5 323.6L507.1 323.2L506.5 322.9L505.9 322.6L505.5 322.2L505.1 321.7L505 321.2L505 320.6L505.1 320L505.3 319.4L505.4 318.8L505.4 318.3L505.2 317.7L504.9 317.2L504.5 316.7L504.2 316.1L503.9 315.6L503.9 315L504 314.4L504.3 313.8L504.7 313.3L505.2 312.8L505.5 312.3L505.7 311.7L505.7 311.2L505.7 310.6L505.6 309.9L505.6 309.3L505.7 308.7L506 308.2L506.4 307.7L507 307.3L507.6 307L508.2 306.7L508.7 306.4L509.1 306L509.4 305.5L509.5 304.9L509.7 304.3L510 303.7L510.3 303.3L510.8 302.9L511.4 302.7L512 302.6L512.7 302.5L513.3 302.5L513.9 302.3L514.3 302L514.7 301.6L515 301.1L515.4 300.6L515.8 300.2L516.3 299.8L516.8 299.7L517.4 299.7L518 299.8L518.6 299.9L519.2 300L519.7 299.9L520.2 299.7L520.7 299.4L521.1 298.9L521.7 298.5L522.2 298.2L522.7 298L523.3 298.1L523.8 298.2L524.4 298.5L524.9 298.8L525.4 299L525.9 299L526.5 298.9L527.1 298.7L527.7 298.4L528.4 298.2L529 298.1L529.6 298.2L530.1 298.5L530.5 298.9L530.9 299.3L531.3 299.8L531.7 300.1L532.2 300.4L532.7 300.5L533.4 300.5L534 300.6L534.7 300.7L535.2 300.9L535.7 301.2L536 301.7L536.2 302.4L536.3 303L536.5 303.6L536.7 304.1L537 304.6L537.4 304.9L538 305.2L538.5 305.5L539 305.9L539.3 306.3L539.5 306.9L539.5 307.5L539.3 308.2L539.2 308.8L539 309.5L539 310L539.2 310.5L539.4 311L539.8 311.4L540.1 311.9L540.4 312.4L540.5 313L540.4 313.5L540.1 314.1L539.8 314.7L539.4 315.2L539.1 315.7L539 316.3L539 316.8L539.1 317.3L539.3 317.9L539.5 318.4L539.6 319L539.5 319.5L539.2 320L538.8 320.5L538.3 320.9L537.9 321.3L537.5 321.8L537.3 322.2L537.2 322.8L537.2 323.4L537.3 324L537.3 324.7L537.1 325.3L536.9 325.8L536.4 326.2L535.9 326.5L535.3 326.8L534.8 327L534.3 327.4L534 327.8L533.7 328.3L533.5 329L533.3 329.6L533 330.2L532.6 330.7L532.1 331.1L531.5 331.3L530.9 331.3L530.3 331.4L529.7 331.4L529.1 331.6L528.6 331.9L528.2 332.3L527.7 332.8L527.2 333.3L526.7 333.7L526.1 333.9L525.5 333.9L524.9 333.8L524.3 333.6L523.7 333.3L523.2 333.1L522.6 333L522 333L521.5 333.2L520.9 333.5L520.3 333.7L519.7 333.8L519.2 333.7L518.6 333.5L518.2 333.1L517.7 332.6Z" fill="none" stroke="#555" stroke-width="1.15"/>
<path d="M547 335.5L546.6 335.7L546.9 336.1L547.4 336.4L547.8 336.8L547.7 337.1L547.1 337.3L546.3 337.4L545.8 337.6L545.8 337.9L546.2 338.3L546.6 338.8L546.5 339.1L545.9 339.2L545 339.3L544.4 339.4L544.3 339.7L544.6 340.2L544.8 340.6L544.7 340.9L544 341.1L543.2 341L542.5 341.1L542.2 341.3L542.3 341.8L542.4 342.3L542.1 342.6L541.5 342.7L540.7 342.6L539.9 342.6L539.5 342.7L539.3 343.1L539.2 343.6L538.9 344L538.2 344L537.4 343.8L536.7 343.7L536.1 343.7L535.7 344L535.3 344.5L534.9 344.8L534.2 344.8L533.5 344.5L532.8 344.2L532.2 344.1L531.6 344.3L531.1 344.7L530.5 344.9L529.9 344.9L529.3 344.5L528.7 344.1L528.1 343.9L527.5 344L526.9 344.3L526.2 344.4L525.6 344.3L525.1 343.9L524.8 343.5L524.3 343.2L523.7 343.1L523 343.3L522.3 343.4L521.7 343.3L521.4 342.9L521.2 342.4L520.9 342L520.4 341.9L519.7 341.9L518.9 342L518.3 341.9L518.1 341.5L518.1 341L518 340.6L517.6 340.4L516.8 340.4L516 340.4L515.4 340.2L515.2 339.9L515.4 339.4L515.5 339L515.2 338.8L514.4 338.7L513.5 338.6L512.9 338.4L512.8 338.1L513.1 337.7L513.4 337.3L513.2 337L512.5 336.8L511.6 336.6L511 336.4L510.9 336L511.3 335.7L511.7 335.4L511.8 335.1L511.3 334.8L510.5 334.5L509.9 334.1L509.8 333.8L510.3 333.5L511 333.2L511.2 333L510.9 332.6L510.3 332.2L509.8 331.9L509.9 331.5L510.5 331.3L511.3 331.1L511.8 330.9L511.7 330.5L511.3 330.1L511 329.7L511.1 329.4L511.8 329.2L512.7 329.1L513.4 329L513.6 328.7L513.5 328.3L513.3 327.8L513.6 327.5L514.3 327.5L515.2 327.5L516 327.5L516.4 327.3L516.5 326.9L516.5 326.5L516.8 326.2L517.5 326.2L518.4 326.3L519.3 326.4L519.8 326.3L520 326L520.2 325.5L520.5 325.3L521.2 325.3L522 325.5L522.8 325.7L523.3 325.7L523.7 325.4L524 325L524.4 324.8L525.1 324.8L525.7 325.1L526.4 325.4L527 325.4L527.5 325.2L527.9 324.8L528.5 324.6L529.1 324.6L529.6 324.9L530.2 325.2L530.7 325.4L531.3 325.3L531.9 324.9L532.6 324.7L533.2 324.7L533.7 325.1L534.1 325.5L534.6 325.7L535.2 325.7L536 325.4L536.8 325.3L537.4 325.3L537.8 325.7L538 326.1L538.4 326.4L539 326.5L539.8 326.4L540.7 326.3L541.4 326.4L541.6 326.8L541.7 327.3L541.8 327.7L542.3 327.9L543.2 327.9L544.1 327.9L544.7 328.1L544.8 328.5L544.7 328.9L544.6 329.4L544.9 329.6L545.6 329.8L546.5 329.9L547 330.1L547.1 330.5L546.7 330.9L546.4 331.3L546.4 331.7L547 331.9L547.7 332.1L548.3 332.4L548.2 332.7L547.7 333.1L547.1 333.4L546.9 333.7L547.3 334L548 334.3L548.4 334.6L548.3 334.9L547.7 335.2L547 335.5Z" fill="none" stroke="#555" stroke-width="1.15"/>
<path d="M530.7 349.6L530.5 349.8L530.4 350.1L530.3 350.5L530.2 350.8L530 351.1L529.7 351.2L529.4 351.2L528.9 351.1L528.5 350.9L528.1 350.8L527.8 350.8L527.5 350.9L527.2 351.1L527 351.4L526.8 351.6L526.5 351.8L526.1 351.8L525.7 351.7L525.2 351.4L524.8 351.1L524.4 350.9L523.9 350.7L523.6 350.6L523.2 350.7L522.8 350.8L522.4 350.8L522 350.8L521.6 350.6L521.1 350.3L520.7 349.9L520.3 349.5L519.9 349.1L519.5 348.7L519.1 348.5L518.6 348.3L518.2 348.2L517.7 348L517.2 347.8L516.8 347.5L516.4 347.1L516.1 346.6L515.8 346L515.5 345.5L515.2 345.1L514.9 344.7L514.5 344.4L514.1 344.1L513.6 343.8L513.2 343.4L512.8 343L512.6 342.5L512.4 342.1L512.3 341.6L512.2 341.1L512 340.6L511.8 340.2L511.5 339.8L511.1 339.5L510.7 339.1L510.3 338.6L510.1 338.2L509.9 337.8L509.9 337.4L509.9 337L509.9 336.6L509.9 336.2L509.8 335.8L509.5 335.4L509.2 334.9L508.9 334.5L508.5 334L508.3 333.5L508.3 333.1L508.3 332.8L508.5 332.5L508.6 332.2L508.7 331.8L508.6 331.5L508.5 331L508.3 330.6L508 330L507.8 329.5L507.7 329.1L507.7 328.7L507.9 328.4L508.1 328.2L508.4 328L508.6 327.8L508.7 327.5L508.8 327.2L508.7 326.7L508.6 326.2L508.6 325.8L508.6 325.4L508.8 325.1L509.1 325L509.5 325L509.9 325L510.3 325L510.6 324.8L510.8 324.6L511 324.3L511.1 324L511.2 323.6L511.5 323.4L511.8 323.4L512.2 323.4L512.7 323.6L513.2 323.8L513.7 324L514.1 324.1L514.4 324.1L514.7 324L515 323.8L515.3 323.7L515.7 323.6L516.1 323.7L516.5 324L517 324.3L517.5 324.7L517.9 325L518.3 325.3L518.7 325.4L519.1 325.5L519.4 325.4L519.8 325.4L520.2 325.5L520.6 325.7L521 326L521.4 326.4L521.8 326.9L522.2 327.3L522.5 327.6L522.9 327.8L523.3 328L523.8 328.1L524.2 328.2L524.6 328.3L525.1 328.6L525.4 329L525.8 329.4L526 329.9L526.3 330.3L526.7 330.7L527 331L527.5 331.3L527.9 331.5L528.4 331.8L528.9 332.1L529.3 332.4L529.6 332.9L529.9 333.3L530.1 333.8L530.2 334.3L530.5 334.7L530.8 335.1L531.2 335.5L531.6 335.9L532.1 336.3L532.5 336.8L532.8 337.2L533 337.7L533.1 338.1L533.1 338.6L533.1 339L533.2 339.4L533.3 339.8L533.6 340.3L533.9 340.8L534.2 341.3L534.5 341.8L534.7 342.2L534.7 342.6L534.6 343L534.4 343.3L534.2 343.6L534 343.9L534 344.2L534 344.6L534.2 345.1L534.4 345.6L534.5 346L534.5 346.4L534.3 346.7L534.1 346.9L533.7 347L533.4 347.1L533.1 347.3L532.9 347.5L532.8 347.8L532.8 348.2L532.8 348.6L532.8 349L532.7 349.3L532.5 349.5L532.2 349.6L531.8 349.5L531.3 349.5L531 349.5L530.7 349.6Z" fill="none" stroke="#555" stroke-width="1.15"/>
<path d="M537.8 347.2L536.6 347L535.6 347L535 347.3L534.9 348.1L534.8 349L534.5 349.7L533.7 349.8L532.6 349.5L531.4 349.1L530.5 348.9L530 349.2L529.7 350L529.4 350.8L528.8 351.2L527.9 351.1L526.9 350.5L525.8 349.9L525 349.8L524.5 350.2L524 350.9L523.5 351.6L522.7 351.7L521.8 351.2L520.9 350.5L520.1 349.9L519.3 349.8L518.7 350.3L517.9 350.9L517.2 351.3L516.4 351.1L515.6 350.4L514.8 349.6L514.1 349.1L513.3 349.1L512.4 349.4L511.5 349.9L510.6 349.9L509.8 349.4L509.2 348.6L508.6 347.7L508 347.2L507.1 347.1L506 347.3L504.9 347.4L504 347.1L503.4 346.3L503.1 345.3L502.7 344.4L502.1 343.9L501.1 343.7L499.9 343.6L498.8 343.3L498.2 342.7L498 341.8L497.9 340.8L497.8 339.9L497.1 339.3L496.1 339L495 338.6L494.1 338L493.9 337.2L494.1 336.3L494.4 335.4L494.4 334.6L493.8 334L492.8 333.4L491.8 332.8L491.4 332.1L491.6 331.3L492.2 330.5L492.7 329.8L492.7 329.1L492.1 328.4L491.3 327.7L490.6 326.9L490.6 326.2L491.1 325.6L492 325.1L492.6 324.5L492.6 323.9L492 323.1L491.3 322.3L490.9 321.5L491.2 320.9L492.1 320.5L493 320.2L493.6 319.8L493.5 319.1L492.9 318.2L492.4 317.2L492.4 316.5L493 316.1L494 315.9L494.9 315.8L495.4 315.4L495.3 314.6L494.9 313.5L494.7 312.6L495 312L495.8 311.9L496.9 311.9L497.8 311.9L498.2 311.4L498.2 310.5L498.1 309.4L498.3 308.6L498.9 308.3L499.9 308.5L501 308.8L501.9 308.8L502.3 308.3L502.6 307.4L502.8 306.4L503.4 305.9L504.3 306L505.3 306.5L506.4 306.9L507.2 307L507.8 306.6L508.3 305.8L508.9 305.1L509.7 305L510.7 305.5L511.7 306.3L512.6 306.9L513.4 307L514.2 306.7L514.9 306.1L515.8 305.9L516.6 306.2L517.4 307L518.2 308L519 308.6L519.7 308.8L520.6 308.6L521.6 308.3L522.4 308.4L523.2 309.1L523.7 310.1L524.2 311.1L524.8 311.7L525.6 311.9L526.6 311.8L527.6 311.8L528.4 312.2L528.8 313.1L529.1 314.1L529.3 315L529.9 315.6L530.8 315.8L531.9 315.9L532.9 316.2L533.4 316.8L533.6 317.7L533.6 318.6L533.7 319.4L534.3 319.9L535.4 320.2L536.5 320.6L537.4 321.1L537.7 321.8L537.5 322.6L537.3 323.5L537.5 324.2L538.2 324.7L539.3 325.2L540.4 325.8L541 326.5L541 327.2L540.5 328L540.2 328.7L540.4 329.4L541.1 330.1L542.2 330.8L543.1 331.6L543.3 332.4L542.9 333L542.2 333.6L541.7 334.2L541.9 334.9L542.6 335.8L543.4 336.7L543.9 337.6L543.6 338.2L542.8 338.7L541.9 339L541.4 339.5L541.5 340.3L542 341.2L542.5 342.2L542.4 343L541.7 343.4L540.6 343.5L539.6 343.7L539 344L539 344.8L539.2 345.8L539.3 346.7L538.8 347.2L537.8 347.2Z" fill="none" stroke="#555" stroke-width="1.15"/>
<path d="M524.5 354.3L523.7 354.8L522.9 355L522 355L521 354.8L520.1 354.6L519.2 354.4L518.3 354.5L517.5 354.7L516.7 355.1L515.8 355.6L515 356L514.1 356.2L513.2 356.1L512.3 355.7L511.5 355.1L510.7 354.5L509.9 354L509.1 353.7L508.3 353.5L507.4 353.6L506.5 353.7L505.5 353.7L504.7 353.6L503.9 353.2L503.2 352.5L502.6 351.7L502.1 350.9L501.6 350.2L501.1 349.6L500.4 349.2L499.5 349L498.6 348.8L497.8 348.6L497 348.2L496.3 347.7L495.9 347L495.6 346.1L495.4 345.2L495.2 344.4L494.8 343.8L494.3 343.2L493.5 342.8L492.7 342.4L491.8 342L491.1 341.5L490.6 340.8L490.3 340.1L490.3 339.3L490.3 338.4L490.3 337.6L490.1 336.9L489.7 336.2L489.1 335.6L488.4 335L487.6 334.3L487 333.6L486.7 332.8L486.6 332L486.8 331.2L487.1 330.4L487.4 329.6L487.5 328.8L487.4 328.1L487.1 327.3L486.6 326.4L486.2 325.5L485.9 324.7L485.8 323.8L486.1 323L486.6 322.3L487.3 321.7L487.9 321L488.4 320.4L488.7 319.6L488.8 318.8L488.8 317.9L488.7 317L488.8 316.1L489.2 315.4L489.8 314.8L490.6 314.3L491.6 314L492.5 313.6L493.3 313.3L493.9 312.8L494.4 312.1L494.7 311.3L495.1 310.5L495.5 309.8L496.1 309.3L496.9 308.9L497.9 308.8L498.9 308.8L499.9 308.8L500.8 308.8L501.5 308.6L502.2 308.1L502.8 307.6L503.4 306.9L504 306.4L504.7 306L505.6 305.9L506.5 306L507.4 306.2L508.3 306.5L509.1 306.7L509.9 306.7L510.7 306.5L511.4 306.1L512.2 305.6L513 305.1L513.8 304.9L514.7 304.9L515.5 305.2L516.3 305.6L517 306.1L517.8 306.5L518.6 306.7L519.4 306.6L520.3 306.4L521.3 306.2L522.2 305.9L523.1 305.9L524 306.1L524.7 306.6L525.4 307.2L526 307.9L526.6 308.5L527.3 308.9L528.1 309.2L529.1 309.3L530.1 309.4L531.1 309.5L532 309.8L532.7 310.3L533.3 311L533.7 311.9L534 312.7L534.3 313.6L534.7 314.3L535.3 314.8L536.1 315.3L537 315.8L537.8 316.3L538.5 316.9L539 317.6L539.2 318.4L539.2 319.4L539 320.3L538.9 321.2L539 322L539.2 322.8L539.7 323.5L540.2 324.1L540.8 324.8L541.2 325.6L541.3 326.4L541.2 327.2L540.8 328.1L540.3 328.9L539.8 329.6L539.5 330.4L539.5 331.1L539.6 331.9L539.9 332.7L540.2 333.5L540.4 334.3L540.3 335L539.9 335.8L539.4 336.4L538.6 337L538 337.5L537.5 338.1L537.2 338.8L537.1 339.6L537.2 340.4L537.3 341.3L537.3 342.1L537 342.9L536.5 343.5L535.8 344L535 344.4L534.2 344.7L533.6 345.2L533.1 345.7L532.8 346.5L532.6 347.4L532.4 348.3L532.1 349.1L531.6 349.8L531 350.3L530.1 350.6L529.2 350.8L528.3 350.9L527.5 351.1L526.8 351.5L526.2 352.1L525.7 352.8L525.1 353.6L524.5 354.3Z" fill="none" stroke="#555" stroke-width="1.15"/>
<g fill="none" stroke="#6a6a6a" stroke-width="1.4" stroke-linecap="round">
<path d="M329.700 312.600V318.600M332.100 312.600V318.600"/>
<path d="M329.500 318.600Q327 323 322.500 324.200Q312 326.500 300.600 329.500"/>
<path d="M324.500 323.600Q316 329 308.400 336.200"/>
<path d="M327 322Q321 331 314.400 341.400"/>
<path d="M329.800 318.600Q328.500 331 323 341.800"/>
<path d="M332.300 318.600Q333.500 330 336.100 341.100"/>
<path d="M332.800 320.500Q337 330 344.600 339.400"/>
<path d="M333 320Q342 327 355.200 334.700"/>
<path d="M337.500 323.600Q349 328 362 332.600"/>
</g>
<ellipse cx="222" cy="216.2" rx="12.7" ry="13.4" fill="#a8a8a8" stroke="#000" stroke-width="1.45" transform="rotate(-20 222 216.2)"/>
<ellipse cx="210.5" cy="276" rx="14" ry="12.8" fill="#d6d6d6" stroke="#000" stroke-width="1.45"/>
<ellipse cx="257.5" cy="313.8" rx="11.2" ry="11.2" fill="#d6d6d6" stroke="#000" stroke-width="1.4"/>
<ellipse cx="650" cy="339.5" rx="14.2" ry="9.3" fill="#a0a0a0" stroke="#000" stroke-width="1.4" transform="rotate(-22 650 339.5)"/>
<ellipse cx="657.5" cy="384.2" rx="9.5" ry="13" fill="#a0a0a0" stroke="#000" stroke-width="1.4" transform="rotate(-10 657.5 384.2)"/>
<ellipse cx="700" cy="382.3" rx="17.5" ry="16.6" fill="#a0a0a0" stroke="#000" stroke-width="1.4"/>
<ellipse cx="606.5" cy="345" rx="12.5" ry="11.2" fill="#d6d6d6" stroke="#000" stroke-width="1.45"/>
<ellipse cx="630" cy="352" rx="11.8" ry="10.8" fill="#d6d6d6" stroke="#000" stroke-width="1.45" transform="rotate(15 630 352)"/>
<ellipse cx="674.5" cy="369" rx="11.8" ry="11" fill="#d6d6d6" stroke="#000" stroke-width="1.45" transform="rotate(20 674.5 369)"/>
<ellipse cx="652" cy="359.5" rx="12.2" ry="11" fill="#d6d6d6" stroke="#000" stroke-width="1.45" transform="rotate(20 652 359.5)"/>
<ellipse cx="541.8" cy="448.2" rx="13.3" ry="12" fill="#d6d6d6" stroke="#000" stroke-width="1.5"/>
<path d="M191.5 459.6Q229.8 458.4 268.8 438.8Q289.6 465.9 322 469.5Q273 465.1 232 485.5Q223.2 470.1 191.5 459.6Z" fill="#e7e7e7" stroke="#000" stroke-width="1.2" stroke-linejoin="miter" stroke-miterlimit="10"/>
<ellipse cx="238.8" cy="465.8" rx="10" ry="7" fill="#c2c2c2" stroke="#000" stroke-width="1.2"/>
<path d="M318.8 445Q379.7 451.4 421.8 437.5Q436.9 460.9 464.3 470.8Q442.4 473.4 410.8 482.5Q360.2 456.2 318.8 445Z" fill="#e7e7e7" stroke="#000" stroke-width="1.2" stroke-linejoin="miter" stroke-miterlimit="10"/>
<ellipse cx="420.8" cy="459.3" rx="10" ry="7" fill="#c2c2c2" stroke="#000" stroke-width="1.2"/>
<path d="M313.8 492Q338.1 493.6 350 480.8Q380 498.5 430 507.5Q376.2 511.6 347.5 529.3Q334.1 518.2 314.3 526.3Q325.9 508.5 313.8 492Z" fill="#e7e7e7" stroke="#000" stroke-width="1.2" stroke-linejoin="miter" stroke-miterlimit="10"/>
<ellipse cx="341.3" cy="504.5" rx="10" ry="7" fill="#c2c2c2" stroke="#000" stroke-width="1.2"/>
<path d="M75 256.5C74.1 258.1 71.3 262.1 69.5 266C67.7 269.9 65.5 275.5 64.3 280C63.1 284.5 62.3 288.3 62.2 293C62.1 297.7 62.7 303.1 63.5 308C64.3 312.9 65.7 317.5 67.2 322.5C68.7 327.5 70.5 333 72.5 338C74.5 343 77.4 347.2 79 352.5C80.6 357.8 81.8 363.8 82 370C82.2 376.2 81.1 383.8 80 390C78.9 396.2 77.1 401.7 75.5 407.5C73.9 413.3 71.7 419.4 70.5 425C69.3 430.6 68.8 435.8 68.5 441C68.2 446.2 68.3 451.2 68.8 456C69.3 460.8 69.9 465.3 71.3 470C72.7 474.7 74.7 479.8 77 484C79.3 488.2 82 491.4 85 495C88 498.6 93.3 503.8 95 505.5L96 502.5C95.2 500.4 93 494.4 91.5 490C90 485.6 88.1 480.5 87 476C85.9 471.5 85.3 467.3 84.8 463C84.3 458.7 84.2 454.5 84.2 450C84.2 445.5 84.5 441 85 436C85.5 431 86.6 424.8 87.5 420C88.4 415.2 89.3 412 90.5 407C91.7 402 93.7 396.2 94.6 390C95.5 383.8 96.1 375.3 96 370C95.9 364.7 95.2 362.2 94 358C92.8 353.8 90.7 349.5 88.8 345C86.9 340.5 84.5 336 82.5 331C80.5 326 78 320.2 76.5 315C75 309.8 73.9 304.7 73.2 300C72.5 295.3 72.2 291.2 72.3 287C72.4 282.8 73.3 279 74 275C74.7 271 76.2 266 76.6 263C77 260 76.3 258 76.3 257Z" fill="#f4f4f4" stroke="#111" stroke-width="1.05" stroke-linejoin="round"/>
<path d="M70.5 265.6C69.7 267.9 66.8 274.9 65.7 279.3C64.5 283.7 63.7 287.6 63.6 292.2C63.5 296.8 64 302 64.9 306.9C65.7 311.8 67 316.4 68.5 321.5C70 326.5 71.9 332 73.9 337C75.9 342 78.7 346.2 80.4 351.4C82 356.7 83.4 362.4 83.7 368.3C84 374.3 83.2 381.1 82.2 387.2C81.3 393.3 79.7 399.2 78.2 405.1C76.7 410.9 74.5 417 73.3 422.5C72.1 428 71.5 432.9 71.2 438.1C70.8 443.2 70.7 448.3 71.1 453.2C71.4 458.1 71.9 462.6 73.1 467.2C74.3 471.8 76.1 476.9 78.1 481.1C80.1 485.2 84.1 490.5 85.3 492.3" fill="none" stroke="#222" stroke-width="0.7"/>
<path d="M75.6 263.4C75.1 265.5 73.4 271.6 72.6 275.7C71.9 279.8 71 283.6 70.9 287.8C70.8 292.1 71.1 296.4 71.8 301.1C72.6 305.8 73.7 310.9 75.2 316C76.7 321.2 79.1 327 81.1 332C83.1 337 85.6 341.4 87.4 346.1C89.3 350.7 91.3 355.2 92.3 359.7C93.4 364.1 93.8 367.3 93.8 372.8C93.7 378.3 92.9 386.3 91.9 392.4C90.9 398.6 88.9 404.4 87.7 409.5C86.5 414.6 85.7 418.1 84.8 422.9C84 427.8 83.1 433.8 82.7 438.8C82.3 443.8 82.2 448.3 82.4 452.8C82.6 457.3 83 461.6 83.7 465.9C84.4 470.2 86.2 476.5 86.7 478.7" fill="none" stroke="#222" stroke-width="0.7"/>
<path d="M71.9 265C71.2 267.2 68.6 274 67.6 278.3C66.6 282.6 65.8 286.5 65.6 291C65.5 295.5 66 300.4 66.8 305.3C67.6 310.1 68.8 314.9 70.4 319.9C71.9 325 73.9 330.6 75.9 335.6C77.9 340.6 80.6 344.9 82.3 349.9C84 355 85.6 360.4 86.1 365.9C86.6 371.5 86.1 377.3 85.4 383.2C84.8 389.1 83.4 395.6 82 401.6C80.6 407.5 78.5 413.5 77.3 418.9C76.1 424.3 75.5 428.8 75 433.9C74.5 438.9 74.2 444.3 74.3 449.2C74.4 454.1 74.8 458.6 75.7 463.2C76.6 467.8 78 472.6 79.7 476.9C81.3 481.1 84.7 486.6 85.7 488.5" fill="none" stroke="#222" stroke-width="0.6"/>
<path d="M74.2 264C73.6 266.1 71.6 272.5 70.7 276.7C69.8 280.9 69 284.7 68.9 289C68.7 293.4 69.2 298 69.9 302.7C70.6 307.5 71.8 312.4 73.3 317.6C74.9 322.7 77.1 328.4 79.1 333.4C81.1 338.4 83.7 342.8 85.5 347.6C87.3 352.3 89.1 357.2 89.9 362.1C90.8 367 90.9 371.2 90.6 376.8C90.3 382.4 89.2 389.9 88.1 396C87 402 84.9 407.9 83.7 413.1C82.5 418.3 81.7 422.2 81 427.1C80.3 432.1 79.7 437.9 79.5 442.8C79.3 447.7 79.4 452.2 79.8 456.8C80.3 461.4 81.1 465.9 82.1 470.1C83.2 474.4 85.6 480.4 86.3 482.5" fill="none" stroke="#222" stroke-width="0.6"/>
<path d="M76 424C72.500 438 71.500 452 74.300 465C75.800 470 78.300 473.500 81.200 474C82 470 81.600 466 80.600 461C79.200 452 79.300 440 82.500 425Z" fill="#dcdcdc" stroke="#222" stroke-width="0.7"/>
<path d="M78.600 475C77 481 80.500 489.500 88.500 496.500C89 490 86.300 480.500 82 475.200ZM80.500 478C82 484 84.500 490 88 495.500" fill="#f4f4f4" stroke="#222" stroke-width="0.7"/>
<circle cx="66.6" cy="288" r="1.600" fill="#e8e8e8" stroke="#111" stroke-width="0.95"/>
<circle cx="67.2" cy="291.8" r="1.600" fill="#e8e8e8" stroke="#111" stroke-width="0.95"/>
<circle cx="67.8" cy="295.5" r="1.600" fill="#e8e8e8" stroke="#111" stroke-width="0.95"/>
<circle cx="68.4" cy="299.2" r="1.600" fill="#e8e8e8" stroke="#111" stroke-width="0.95"/>
<circle cx="69.2" cy="303" r="1.600" fill="#e8e8e8" stroke="#111" stroke-width="0.95"/>
<circle cx="70" cy="306.8" r="1.600" fill="#e8e8e8" stroke="#111" stroke-width="0.95"/>
<circle cx="70.8" cy="310.5" r="1.600" fill="#e8e8e8" stroke="#111" stroke-width="0.95"/>
<circle cx="71.8" cy="314.2" r="1.600" fill="#e8e8e8" stroke="#111" stroke-width="0.95"/>
<circle cx="72.8" cy="318" r="1.600" fill="#e8e8e8" stroke="#111" stroke-width="0.95"/>
<circle cx="73.8" cy="321.8" r="1.600" fill="#e8e8e8" stroke="#111" stroke-width="0.95"/>
<circle cx="74.9" cy="325.5" r="1.600" fill="#e8e8e8" stroke="#111" stroke-width="0.95"/>
<circle cx="85.9" cy="346.9" r="2.700" fill="#fff" stroke="#111" stroke-width="0.85"/>
<circle cx="85.9" cy="346.9" r="1" fill="#ddd" stroke="#222" stroke-width="0.6"/>
<circle cx="87.7" cy="353.2" r="2.700" fill="#fff" stroke="#111" stroke-width="0.85"/>
<circle cx="87.7" cy="353.2" r="1" fill="#ddd" stroke="#222" stroke-width="0.6"/>
<circle cx="89.2" cy="359.6" r="2.700" fill="#fff" stroke="#111" stroke-width="0.85"/>
<circle cx="89.2" cy="359.6" r="1" fill="#ddd" stroke="#222" stroke-width="0.6"/>
<circle cx="90.4" cy="366" r="2.700" fill="#fff" stroke="#111" stroke-width="0.85"/>
<circle cx="90.4" cy="366" r="1" fill="#ddd" stroke="#222" stroke-width="0.6"/>
<circle cx="91" cy="372.4" r="2.700" fill="#fff" stroke="#111" stroke-width="0.85"/>
<circle cx="91" cy="372.4" r="1" fill="#ddd" stroke="#222" stroke-width="0.6"/>
<circle cx="90.9" cy="378.8" r="2.700" fill="#fff" stroke="#111" stroke-width="0.85"/>
<circle cx="90.9" cy="378.8" r="1" fill="#ddd" stroke="#222" stroke-width="0.6"/>
<circle cx="90.6" cy="385" r="2.700" fill="#fff" stroke="#111" stroke-width="0.85"/>
<circle cx="90.6" cy="385" r="1" fill="#ddd" stroke="#222" stroke-width="0.6"/>
<circle cx="89.8" cy="391" r="2.700" fill="#fff" stroke="#111" stroke-width="0.85"/>
<circle cx="89.8" cy="391" r="1" fill="#ddd" stroke="#222" stroke-width="0.6"/>
<circle cx="84.9" cy="414.5" r="2.400" fill="#fff" stroke="#111" stroke-width="0.8"/>
<circle cx="83.6" cy="419.6" r="2.400" fill="#fff" stroke="#111" stroke-width="0.8"/>
<circle cx="82.4" cy="424.7" r="2.400" fill="#fff" stroke="#111" stroke-width="0.8"/>
<circle cx="81.5" cy="429.9" r="2.400" fill="#fff" stroke="#111" stroke-width="0.8"/>
<circle cx="80.8" cy="435.1" r="2.400" fill="#fff" stroke="#111" stroke-width="0.8"/>
<circle cx="80.3" cy="440.3" r="2.400" fill="#fff" stroke="#111" stroke-width="0.8"/>
<circle cx="80" cy="445.5" r="2.400" fill="#fff" stroke="#111" stroke-width="0.8"/>
<circle cx="79.9" cy="450.7" r="2.400" fill="#fff" stroke="#111" stroke-width="0.8"/>
<circle cx="80" cy="455.9" r="2.400" fill="#fff" stroke="#111" stroke-width="0.8"/>
<circle cx="80.4" cy="461" r="2.400" fill="#fff" stroke="#111" stroke-width="0.8"/>
<path d="M154.5 192.5C153.1 190.8 148.8 185.8 146 182C143.2 178.2 140.4 175.2 137.5 170C134.6 164.8 130.2 154.2 128.8 151" fill="none" stroke="#000" stroke-width="1.4" stroke-linecap="round"/>
<path d="M135.1 156.2L128.8 151L128.6 159.2" fill="none" stroke="#000" stroke-width="1.4" stroke-linecap="round" stroke-linejoin="miter"/>
<path d="M210 192C210.8 189.7 212.9 182.7 215 178C217.1 173.3 218.8 169 222.5 164C226.2 159 231.1 154 237.5 148C243.9 142 257.1 131.3 261 128" fill="none" stroke="#000" stroke-width="1.4" stroke-linecap="round"/>
<path d="M257.5 136.1L261 128L252.5 130.2" fill="none" stroke="#000" stroke-width="1.4" stroke-linecap="round" stroke-linejoin="miter"/>
<path d="M240 201.3C249 198.6 275.7 189.7 294 185C312.3 180.3 332.3 175.9 350 173C367.7 170.1 383.3 168.6 400 167.5C416.7 166.4 438.3 166.5 450 166.3C461.7 166.1 466.7 166.5 470 166.5" fill="none" stroke="#000" stroke-width="1.4" stroke-linecap="round"/>
<path d="M462.6 170L470 166.5L462.7 162.8" fill="none" stroke="#000" stroke-width="1.4" stroke-linecap="round" stroke-linejoin="miter"/>
<path d="M141.3 212C136.9 215.8 121.9 228.5 115 235C108.1 241.5 104.5 245.5 100 251C95.5 256.5 91.3 262.4 88 268C84.7 273.6 81.3 281.8 80 284.5" fill="none" stroke="#000" stroke-width="1.4" stroke-linecap="round"/>
<path d="M80 275.7L80 284.5L86.9 279.1" fill="none" stroke="#000" stroke-width="1.4" stroke-linecap="round" stroke-linejoin="miter"/>
<path d="M146.3 229.5C144.4 235 137.7 251.6 135 262.5C132.3 273.4 130 282.1 130 295C130 307.9 130.4 325 135 340C139.6 355 146.7 367.4 157.5 385C168.3 402.6 192.9 435.4 200 445.5" fill="none" stroke="#000" stroke-width="1.4" stroke-linecap="round"/>
<path d="M192.3 441.2L200 445.5L198.6 436.8" fill="none" stroke="#000" stroke-width="1.4" stroke-linecap="round" stroke-linejoin="miter"/>
<path d="M205 293.8C205.1 297.3 205.1 307.7 205.5 315C205.9 322.3 204.7 325.4 207.5 337.5C210.3 349.6 215.7 371.4 222.5 387.5C229.3 403.6 244.2 426.1 248.5 433.8" fill="none" stroke="#000" stroke-width="1.4" stroke-linecap="round"/>
<path d="M241.3 428.8L248.5 433.8L248 425" fill="none" stroke="#000" stroke-width="1.4" stroke-linecap="round" stroke-linejoin="miter"/>
<path d="M322.5 351C322.5 355 323.8 365.2 322.5 375C321.2 384.8 318.1 399.8 315 410C311.9 420.2 305.8 432.1 304 436.5" fill="none" stroke="#000" stroke-width="1.4" stroke-linecap="round"/>
<path d="M303.5 427.7L304 436.5L310.6 430.7" fill="none" stroke="#000" stroke-width="1.4" stroke-linecap="round" stroke-linejoin="miter"/>
<path d="M243.8 323.8C240.5 325.7 233 331.1 224 335C215 338.9 201.5 343.3 190 347.5C178.5 351.7 169.2 356.2 155 360C140.8 363.8 113.3 368.3 105 370" fill="none" stroke="#000" stroke-width="1.4" stroke-linecap="round"/>
<path d="M112 364.7L105 370L113.5 372.2" fill="none" stroke="#000" stroke-width="1.4" stroke-linecap="round" stroke-linejoin="miter"/>
<path d="M520 447.5C514.6 448.3 498.4 451.5 487.5 452.5C476.6 453.5 460 453.2 454.5 453.3" fill="none" stroke="#000" stroke-width="1.4" stroke-linecap="round"/>
<path d="M461.8 449.5L454.5 453.3L462 456.7" fill="none" stroke="#000" stroke-width="1.4" stroke-linecap="round" stroke-linejoin="miter"/>
<path d="M648 457C644 458.8 635.3 463.8 624 468C612.7 472.2 595.7 478.4 580 482.5C564.3 486.6 552.4 489.8 530 492.5C507.6 495.2 459.6 497.8 445.5 498.8" fill="none" stroke="#000" stroke-width="1.4" stroke-linecap="round"/>
<path d="M453.1 494.4L445.5 498.8L453.7 502.1" fill="none" stroke="#000" stroke-width="1.4" stroke-linecap="round" stroke-linejoin="miter"/>
<g stroke="#111" stroke-width="1">
<path d="M331.3 205.8L322 222.5"/>
<path d="M375.8 221.8L363.8 245"/>
<path d="M434 237.5L419.8 264.5"/>
<path d="M492.8 250L483.3 266.8"/>
<path d="M593.8 270L575 308.8"/>
</g>
<g opacity="0.999" stroke="#141414" stroke-width="0.28">
<text x="42.5" y="101.3" font-size="12.2" textLength="85" lengthAdjust="spacingAndGlyphs">Type I Collagen</text>
<text x="286" y="67" font-size="12.2" textLength="59.8" lengthAdjust="spacingAndGlyphs">Fibrinogen</text>
<text x="560" y="103.8" font-size="12.2" textLength="70.5" lengthAdjust="spacingAndGlyphs">Erythrocytes</text>
<text x="317" y="168.8" font-size="12.6" textLength="100.3" lengthAdjust="spacingAndGlyphs" transform="rotate(-5.7 317 168.8)">Hemagglutination</text>
<text x="315.5" y="201.3" font-size="10.4" textLength="56.5" lengthAdjust="spacingAndGlyphs">Outer layer</text>
<text x="360.8" y="218" font-size="10.4" textLength="66.7" lengthAdjust="spacingAndGlyphs">Mycolic acids</text>
<text x="415.5" y="234.3" font-size="10.4" textLength="41.3" lengthAdjust="spacingAndGlyphs">Cell wall</text>
<text x="463" y="246.5" font-size="10.4" textLength="119" lengthAdjust="spacingAndGlyphs">Cytoplasmic membrane</text>
<text x="576.3" y="265" font-size="10.4" textLength="58.2" lengthAdjust="spacingAndGlyphs">Cytoplasma</text>
<text x="156.3" y="208.8" font-size="12.4" textLength="46.7" lengthAdjust="spacingAndGlyphs">DIP0733</text>
<text x="149.5" y="219.5" font-size="9.2" textLength="57.5" lengthAdjust="spacingAndGlyphs">(MSCRAMM)</text>
<text x="142.5" y="275" font-size="12.4" textLength="46.7" lengthAdjust="spacingAndGlyphs">DIP2093</text>
<text x="137" y="286.3" font-size="9.2" textLength="56.8" lengthAdjust="spacingAndGlyphs">(MSCRAMM)</text>
<text x="250" y="335.5" font-size="11.2" textLength="41.3" lengthAdjust="spacingAndGlyphs">DIP1546</text>
<text x="344.7" y="355.6" font-size="12.6" textLength="43" lengthAdjust="spacingAndGlyphs">CdiLAM</text>
<text x="251.8" y="274.5" font-size="16.4" font-weight="bold" stroke="none" font-style="italic" textLength="109" lengthAdjust="spacingAndGlyphs" fill="#000">C. diphtheriae</text>
<text x="102" y="416.8" font-size="11.4" font-weight="bold" stroke="none" font-style="italic" textLength="58" lengthAdjust="spacingAndGlyphs" fill="#000">C. elegans</text>
<text x="645.5" y="324.3" font-size="12.2" textLength="27.5" lengthAdjust="spacingAndGlyphs">SpaB</text>
<text x="670.5" y="351.3" font-size="12.2" textLength="28.3" lengthAdjust="spacingAndGlyphs">SpaA</text>
<text x="711.8" y="367" font-size="12.2" textLength="27.7" lengthAdjust="spacingAndGlyphs">SpaC</text>
<text x="640" y="427.5" font-size="12.2" text-anchor="middle" textLength="58" lengthAdjust="spacingAndGlyphs">SpaA-type</text>
<text x="640" y="443.8" font-size="12.2" text-anchor="middle" textLength="70" lengthAdjust="spacingAndGlyphs">adhesive pili</text>
<text x="519.5" y="474.3" font-size="11.6" textLength="46.7" lengthAdjust="spacingAndGlyphs">DIP1621</text>
<text x="216.3" y="513" font-size="12.2" textLength="80.5" lengthAdjust="spacingAndGlyphs">Epithelial cells</text>
<text x="232" y="529.5" font-size="12.2" textLength="48.5" lengthAdjust="spacingAndGlyphs">(culture)</text>
</g>
</svg>
</body></html>
